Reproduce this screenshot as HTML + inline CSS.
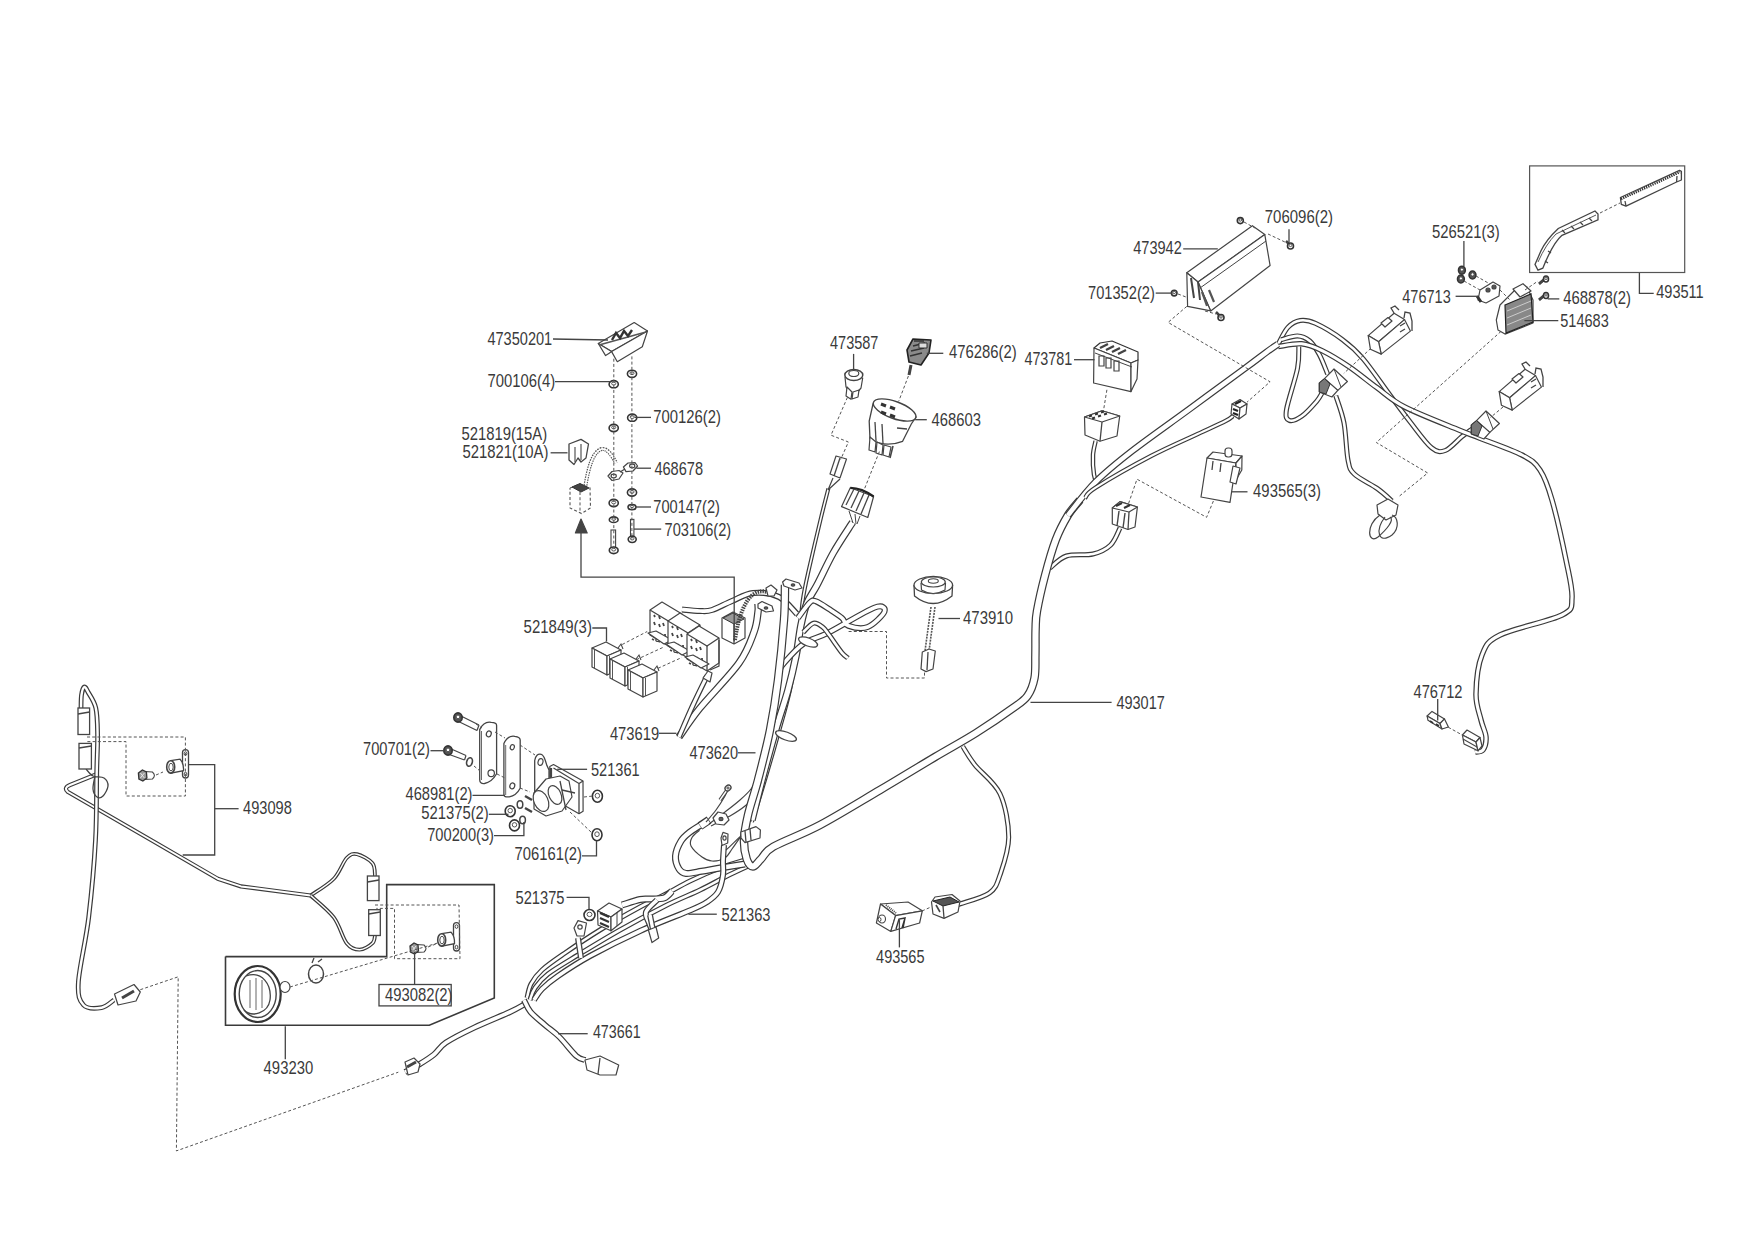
<!DOCTYPE html>
<html><head><meta charset="utf-8">
<style>
html,body{margin:0;padding:0;background:#fff;}
svg{display:block;}
text{font-family:"Liberation Sans",sans-serif;font-size:18.5px;fill:#3a3a3a;}
.l{stroke:#444;stroke-width:1.3;fill:none;}
.d{stroke:#555;stroke-width:1;fill:none;stroke-dasharray:3 2;}
.wo{stroke:#3d3d3d;fill:none;stroke-linecap:round;stroke-linejoin:round;}
.wi{stroke:#fff;fill:none;stroke-linecap:round;stroke-linejoin:round;}
.p{stroke:#444;stroke-width:1.2;fill:#fff;stroke-linejoin:round;}
.pd{stroke:#333;stroke-width:1.2;fill:#777;stroke-linejoin:round;}
</style></head>
<body>
<svg width="1754" height="1240" viewBox="0 0 1754 1240">
<rect width="1754" height="1240" fill="#fff"/>
<path d="M405.0,1072.0 C407.3,1070.8 414.0,1067.5 418.8,1064.6 C423.6,1061.7 429.5,1058.2 434.0,1054.5 C438.5,1050.8 439.2,1047.1 446.0,1042.6 C452.8,1038.1 464.0,1032.5 474.7,1027.4 C485.4,1022.3 501.6,1015.9 510.0,1012.0 C518.4,1008.1 522.5,1005.3 525.0,1004.0" fill="none" stroke="#3a3a3a" stroke-width="6" stroke-linecap="butt" stroke-linejoin="round"/>
<path d="M405.0,1072.0 C407.3,1070.8 414.0,1067.5 418.8,1064.6 C423.6,1061.7 429.5,1058.2 434.0,1054.5 C438.5,1050.8 439.2,1047.1 446.0,1042.6 C452.8,1038.1 464.0,1032.5 474.7,1027.4 C485.4,1022.3 501.6,1015.9 510.0,1012.0 C518.4,1008.1 522.5,1005.3 525.0,1004.0" fill="none" stroke="#fff" stroke-width="3.6" stroke-linecap="butt" stroke-linejoin="round"/>
<path d="M524.0,1000.0 C525.1,1002.0 527.1,1007.8 530.6,1012.0 C534.1,1016.2 540.2,1020.8 545.0,1025.0 C549.8,1029.2 554.2,1031.8 559.4,1037.0 C564.6,1042.2 572.0,1052.2 576.3,1056.0 C580.6,1059.8 583.5,1059.3 585.0,1060.0" fill="none" stroke="#3a3a3a" stroke-width="6" stroke-linecap="butt" stroke-linejoin="round"/>
<path d="M524.0,1000.0 C525.1,1002.0 527.1,1007.8 530.6,1012.0 C534.1,1016.2 540.2,1020.8 545.0,1025.0 C549.8,1029.2 554.2,1031.8 559.4,1037.0 C564.6,1042.2 572.0,1052.2 576.3,1056.0 C580.6,1059.8 583.5,1059.3 585.0,1060.0" fill="none" stroke="#fff" stroke-width="3.6" stroke-linecap="butt" stroke-linejoin="round"/>
<path d="M1050.0,568.0 C1052.7,566.0 1059.2,558.3 1066.4,556.0 C1073.6,553.7 1085.6,555.8 1093.0,554.0 C1100.4,552.2 1106.2,549.3 1110.7,545.0 C1115.2,540.7 1118.5,530.8 1120.0,528.0" fill="none" stroke="#3a3a3a" stroke-width="5" stroke-linecap="butt" stroke-linejoin="round"/>
<path d="M1050.0,568.0 C1052.7,566.0 1059.2,558.3 1066.4,556.0 C1073.6,553.7 1085.6,555.8 1093.0,554.0 C1100.4,552.2 1106.2,549.3 1110.7,545.0 C1115.2,540.7 1118.5,530.8 1120.0,528.0" fill="none" stroke="#fff" stroke-width="2.6" stroke-linecap="butt" stroke-linejoin="round"/>
<path d="M1095.6,441.0 C1095.2,443.3 1093.3,449.4 1093.0,455.0 C1092.7,460.6 1093.2,469.5 1094.0,474.7 C1094.8,479.9 1097.3,484.1 1098.0,486.0" fill="none" stroke="#3a3a3a" stroke-width="4.5" stroke-linecap="butt" stroke-linejoin="round"/>
<path d="M1095.6,441.0 C1095.2,443.3 1093.3,449.4 1093.0,455.0 C1092.7,460.6 1093.2,469.5 1094.0,474.7 C1094.8,479.9 1097.3,484.1 1098.0,486.0" fill="none" stroke="#fff" stroke-width="2.1" stroke-linecap="butt" stroke-linejoin="round"/>
<path d="M1278.3,343.8 C1279.9,341.1 1284.2,331.3 1287.9,327.4 C1291.6,323.5 1295.6,321.2 1300.2,320.5 C1304.8,319.8 1308.2,320.1 1315.3,323.3 C1322.4,326.5 1334.6,333.8 1342.6,339.7 C1350.6,345.6 1355.2,349.4 1363.2,358.8 C1371.2,368.2 1382.5,385.1 1390.5,395.8 C1398.5,406.5 1404.2,414.3 1411.0,423.0 C1417.8,431.7 1425.9,443.2 1431.6,447.8 C1437.3,452.4 1440.3,452.3 1445.3,450.5 C1450.3,448.7 1457.2,440.4 1461.7,436.8 C1466.2,433.2 1470.8,430.0 1472.6,428.6" fill="none" stroke="#3a3a3a" stroke-width="5" stroke-linecap="butt" stroke-linejoin="round"/>
<path d="M1278.3,343.8 C1279.9,341.1 1284.2,331.3 1287.9,327.4 C1291.6,323.5 1295.6,321.2 1300.2,320.5 C1304.8,319.8 1308.2,320.1 1315.3,323.3 C1322.4,326.5 1334.6,333.8 1342.6,339.7 C1350.6,345.6 1355.2,349.4 1363.2,358.8 C1371.2,368.2 1382.5,385.1 1390.5,395.8 C1398.5,406.5 1404.2,414.3 1411.0,423.0 C1417.8,431.7 1425.9,443.2 1431.6,447.8 C1437.3,452.4 1440.3,452.3 1445.3,450.5 C1450.3,448.7 1457.2,440.4 1461.7,436.8 C1466.2,433.2 1470.8,430.0 1472.6,428.6" fill="none" stroke="#fff" stroke-width="2.6" stroke-linecap="butt" stroke-linejoin="round"/>
<path d="M1281.0,339.7 C1283.8,339.1 1292.7,335.7 1297.5,335.9 C1302.3,336.1 1306.1,337.9 1309.8,341.0 C1313.5,344.1 1316.4,349.2 1319.4,354.7 C1322.4,360.2 1326.2,370.7 1327.6,373.9" fill="none" stroke="#3a3a3a" stroke-width="5" stroke-linecap="butt" stroke-linejoin="round"/>
<path d="M1281.0,339.7 C1283.8,339.1 1292.7,335.7 1297.5,335.9 C1302.3,336.1 1306.1,337.9 1309.8,341.0 C1313.5,344.1 1316.4,349.2 1319.4,354.7 C1322.4,360.2 1326.2,370.7 1327.6,373.9" fill="none" stroke="#fff" stroke-width="2.6" stroke-linecap="butt" stroke-linejoin="round"/>
<path d="M1278.3,346.5 C1282.2,346.1 1294.3,343.1 1301.6,343.8 C1308.9,344.5 1314.0,346.7 1322.0,350.6 C1330.0,354.5 1340.4,360.8 1349.5,367.0 C1358.6,373.2 1367.7,381.0 1376.8,387.6 C1385.9,394.2 1390.5,399.6 1404.2,406.7 C1417.9,413.8 1446.4,424.8 1459.0,430.0 C1471.6,435.2 1469.5,434.0 1480.0,438.2 C1490.5,442.4 1512.0,449.7 1522.0,455.0 C1532.0,460.3 1535.0,462.5 1540.0,470.0 C1545.0,477.5 1547.7,485.0 1552.0,500.0 C1556.3,515.0 1562.7,543.7 1566.0,560.0 C1569.3,576.3 1572.7,588.8 1572.0,598.0 C1571.3,607.2 1574.0,608.8 1562.0,615.0 C1550.0,621.2 1513.3,628.3 1500.0,635.0 C1486.7,641.7 1486.0,645.2 1482.0,655.0 C1478.0,664.8 1476.2,683.2 1476.0,694.0 C1475.8,704.8 1479.3,712.8 1481.0,720.0 C1482.7,727.2 1485.7,732.0 1486.0,737.0 C1486.3,742.0 1484.8,747.5 1483.0,750.0 C1481.2,752.5 1476.3,751.7 1475.0,752.0" fill="none" stroke="#3a3a3a" stroke-width="5.5" stroke-linecap="butt" stroke-linejoin="round"/>
<path d="M1278.3,346.5 C1282.2,346.1 1294.3,343.1 1301.6,343.8 C1308.9,344.5 1314.0,346.7 1322.0,350.6 C1330.0,354.5 1340.4,360.8 1349.5,367.0 C1358.6,373.2 1367.7,381.0 1376.8,387.6 C1385.9,394.2 1390.5,399.6 1404.2,406.7 C1417.9,413.8 1446.4,424.8 1459.0,430.0 C1471.6,435.2 1469.5,434.0 1480.0,438.2 C1490.5,442.4 1512.0,449.7 1522.0,455.0 C1532.0,460.3 1535.0,462.5 1540.0,470.0 C1545.0,477.5 1547.7,485.0 1552.0,500.0 C1556.3,515.0 1562.7,543.7 1566.0,560.0 C1569.3,576.3 1572.7,588.8 1572.0,598.0 C1571.3,607.2 1574.0,608.8 1562.0,615.0 C1550.0,621.2 1513.3,628.3 1500.0,635.0 C1486.7,641.7 1486.0,645.2 1482.0,655.0 C1478.0,664.8 1476.2,683.2 1476.0,694.0 C1475.8,704.8 1479.3,712.8 1481.0,720.0 C1482.7,727.2 1485.7,732.0 1486.0,737.0 C1486.3,742.0 1484.8,747.5 1483.0,750.0 C1481.2,752.5 1476.3,751.7 1475.0,752.0" fill="none" stroke="#fff" stroke-width="3.1" stroke-linecap="butt" stroke-linejoin="round"/>
<path d="M1298.8,346.5 C1298.6,350.1 1299.5,357.9 1297.5,368.4 C1295.5,378.9 1287.9,400.8 1286.5,409.5 C1285.1,418.2 1286.8,419.3 1289.3,420.4 C1291.8,421.5 1297.0,419.5 1301.6,416.3 C1306.1,413.1 1313.2,405.2 1316.6,401.3 C1320.0,397.4 1321.1,394.4 1322.0,393.0" fill="none" stroke="#3a3a3a" stroke-width="5" stroke-linecap="butt" stroke-linejoin="round"/>
<path d="M1298.8,346.5 C1298.6,350.1 1299.5,357.9 1297.5,368.4 C1295.5,378.9 1287.9,400.8 1286.5,409.5 C1285.1,418.2 1286.8,419.3 1289.3,420.4 C1291.8,421.5 1297.0,419.5 1301.6,416.3 C1306.1,413.1 1313.2,405.2 1316.6,401.3 C1320.0,397.4 1321.1,394.4 1322.0,393.0" fill="none" stroke="#fff" stroke-width="2.6" stroke-linecap="butt" stroke-linejoin="round"/>
<path d="M1335.8,395.8 C1337.2,400.3 1342.0,412.3 1344.0,423.0 C1346.0,433.7 1346.3,451.5 1348.0,460.0 C1349.7,468.5 1349.4,469.2 1354.3,474.0 C1359.2,478.8 1371.1,484.1 1377.4,488.6 C1383.7,493.1 1389.6,498.9 1392.0,501.0" fill="none" stroke="#3a3a3a" stroke-width="5" stroke-linecap="butt" stroke-linejoin="round"/>
<path d="M1335.8,395.8 C1337.2,400.3 1342.0,412.3 1344.0,423.0 C1346.0,433.7 1346.3,451.5 1348.0,460.0 C1349.7,468.5 1349.4,469.2 1354.3,474.0 C1359.2,478.8 1371.1,484.1 1377.4,488.6 C1383.7,493.1 1389.6,498.9 1392.0,501.0" fill="none" stroke="#fff" stroke-width="2.6" stroke-linecap="butt" stroke-linejoin="round"/>
<path d="M679.0,737.0 C682.5,732.2 690.0,720.3 700.0,708.0 C710.0,695.7 730.0,675.7 739.0,663.0 C748.0,650.3 750.8,640.5 754.0,632.0 C757.2,623.5 757.3,616.7 758.0,612.0 C758.7,607.3 758.0,605.3 758.0,604.0" fill="none" stroke="#3a3a3a" stroke-width="7.5" stroke-linecap="butt" stroke-linejoin="round"/>
<path d="M679.0,737.0 C682.5,732.2 690.0,720.3 700.0,708.0 C710.0,695.7 730.0,675.7 739.0,663.0 C748.0,650.3 750.8,640.5 754.0,632.0 C757.2,623.5 757.3,616.7 758.0,612.0 C758.7,607.3 758.0,605.3 758.0,604.0" fill="none" stroke="#fff" stroke-width="5.1" stroke-linecap="butt" stroke-linejoin="round"/>
<path d="M679.0,737.0 C681.3,731.7 688.3,715.2 693.0,705.0 C697.7,694.8 704.7,680.8 707.0,676.0" fill="none" stroke="#3a3a3a" stroke-width="5.5" stroke-linecap="butt" stroke-linejoin="round"/>
<path d="M679.0,737.0 C681.3,731.7 688.3,715.2 693.0,705.0 C697.7,694.8 704.7,680.8 707.0,676.0" fill="none" stroke="#fff" stroke-width="3.1" stroke-linecap="butt" stroke-linejoin="round"/>
<path d="M682.0,609.5 C685.0,609.8 695.0,610.9 700.0,611.0 C705.0,611.1 706.7,611.7 712.0,610.0 C717.3,608.3 725.2,603.8 732.0,601.0 C738.8,598.2 745.2,593.7 753.0,593.0 C760.8,592.3 771.7,593.5 779.0,597.0 C786.3,600.5 794.0,611.2 797.0,614.0" fill="none" stroke="#3a3a3a" stroke-width="6" stroke-linecap="butt" stroke-linejoin="round"/>
<path d="M682.0,609.5 C685.0,609.8 695.0,610.9 700.0,611.0 C705.0,611.1 706.7,611.7 712.0,610.0 C717.3,608.3 725.2,603.8 732.0,601.0 C738.8,598.2 745.2,593.7 753.0,593.0 C760.8,592.3 771.7,593.5 779.0,597.0 C786.3,600.5 794.0,611.2 797.0,614.0" fill="none" stroke="#fff" stroke-width="3.6" stroke-linecap="butt" stroke-linejoin="round"/>
<path d="M828.4,488.4 C827.0,493.8 823.5,507.2 820.3,520.6 C817.1,534.0 812.0,555.5 809.0,569.0 C806.0,582.5 804.3,589.5 802.6,601.3 C800.9,613.1 801.1,625.2 799.0,640.0 C796.9,654.8 793.5,674.2 790.0,690.0 C786.5,705.8 782.2,720.0 778.0,735.0 C773.8,750.0 769.3,765.5 765.0,780.0 C760.7,794.5 754.2,815.0 752.0,822.0" fill="none" stroke="#3a3a3a" stroke-width="4" stroke-linecap="butt" stroke-linejoin="round"/>
<path d="M828.4,488.4 C827.0,493.8 823.5,507.2 820.3,520.6 C817.1,534.0 812.0,555.5 809.0,569.0 C806.0,582.5 804.3,589.5 802.6,601.3 C800.9,613.1 801.1,625.2 799.0,640.0 C796.9,654.8 793.5,674.2 790.0,690.0 C786.5,705.8 782.2,720.0 778.0,735.0 C773.8,750.0 769.3,765.5 765.0,780.0 C760.7,794.5 754.2,815.0 752.0,822.0" fill="none" stroke="#fff" stroke-width="1.6" stroke-linecap="butt" stroke-linejoin="round"/>
<path d="M852.6,522.3 C849.4,527.4 839.1,542.5 833.2,553.0 C827.3,563.5 821.4,576.7 817.0,585.0 C812.6,593.3 809.7,596.3 807.0,603.0 C804.3,609.7 802.8,616.2 801.0,625.0 C799.2,633.8 798.2,645.2 796.0,656.0 C793.8,666.8 791.3,677.8 788.0,690.0 C784.7,702.2 780.3,714.0 776.0,729.0 C771.7,744.0 766.0,764.8 762.0,780.0 C758.0,795.2 753.7,813.3 752.0,820.0" fill="none" stroke="#3a3a3a" stroke-width="7.5" stroke-linecap="butt" stroke-linejoin="round"/>
<path d="M852.6,522.3 C849.4,527.4 839.1,542.5 833.2,553.0 C827.3,563.5 821.4,576.7 817.0,585.0 C812.6,593.3 809.7,596.3 807.0,603.0 C804.3,609.7 802.8,616.2 801.0,625.0 C799.2,633.8 798.2,645.2 796.0,656.0 C793.8,666.8 791.3,677.8 788.0,690.0 C784.7,702.2 780.3,714.0 776.0,729.0 C771.7,744.0 766.0,764.8 762.0,780.0 C758.0,795.2 753.7,813.3 752.0,820.0" fill="none" stroke="#fff" stroke-width="5.1" stroke-linecap="butt" stroke-linejoin="round"/>
<path d="M798.0,618.0 C800.0,615.4 806.7,605.4 809.7,602.6 C812.7,599.8 812.8,600.2 816.0,601.3 C819.2,602.4 824.7,606.2 829.0,609.0 C833.3,611.8 838.8,615.2 842.0,618.0 C845.2,620.8 844.1,624.3 848.4,625.8 C852.7,627.3 861.7,629.4 867.7,627.0 C873.7,624.6 883.4,614.8 884.5,611.6 C885.6,608.4 883.5,604.2 874.2,607.7 C865.0,611.2 840.8,626.3 829.0,632.3 C817.2,638.3 810.7,638.8 803.2,643.9 C795.7,649.0 787.8,658.9 783.9,663.2 C780.0,667.5 780.6,668.6 780.0,669.7" fill="none" stroke="#3a3a3a" stroke-width="6" stroke-linecap="butt" stroke-linejoin="round"/>
<path d="M798.0,618.0 C800.0,615.4 806.7,605.4 809.7,602.6 C812.7,599.8 812.8,600.2 816.0,601.3 C819.2,602.4 824.7,606.2 829.0,609.0 C833.3,611.8 838.8,615.2 842.0,618.0 C845.2,620.8 844.1,624.3 848.4,625.8 C852.7,627.3 861.7,629.4 867.7,627.0 C873.7,624.6 883.4,614.8 884.5,611.6 C885.6,608.4 883.5,604.2 874.2,607.7 C865.0,611.2 840.8,626.3 829.0,632.3 C817.2,638.3 810.7,638.8 803.2,643.9 C795.7,649.0 787.8,658.9 783.9,663.2 C780.0,667.5 780.6,668.6 780.0,669.7" fill="none" stroke="#fff" stroke-width="3.6" stroke-linecap="butt" stroke-linejoin="round"/>
<path d="M803.2,632.3 C804.9,630.8 810.3,624.1 813.5,623.2 C816.7,622.3 820.0,625.1 822.6,627.0 C825.2,628.9 825.8,630.5 829.0,634.8 C832.2,639.1 838.8,649.0 842.0,652.9 C845.2,656.8 847.0,657.1 848.0,658.0" fill="none" stroke="#3a3a3a" stroke-width="5" stroke-linecap="butt" stroke-linejoin="round"/>
<path d="M803.2,632.3 C804.9,630.8 810.3,624.1 813.5,623.2 C816.7,622.3 820.0,625.1 822.6,627.0 C825.2,628.9 825.8,630.5 829.0,634.8 C832.2,639.1 838.8,649.0 842.0,652.9 C845.2,656.8 847.0,657.1 848.0,658.0" fill="none" stroke="#fff" stroke-width="2.6" stroke-linecap="butt" stroke-linejoin="round"/>
<path d="M745.0,860.0 C740.8,861.3 729.2,864.5 720.0,868.0 C710.8,871.5 699.3,876.5 690.0,881.0 C680.7,885.5 672.3,890.7 664.0,895.0 C655.7,899.3 650.7,901.2 640.0,907.0 C629.3,912.8 612.5,922.3 600.0,930.0 C587.5,937.7 574.7,946.3 565.0,953.0 C555.3,959.7 547.7,964.8 542.0,970.0 C536.3,975.2 533.5,979.3 531.0,984.0 C528.5,988.7 527.7,995.7 527.0,998.0" fill="none" stroke="#3a3a3a" stroke-width="5" stroke-linecap="butt" stroke-linejoin="round"/>
<path d="M745.0,860.0 C740.8,861.3 729.2,864.5 720.0,868.0 C710.8,871.5 699.3,876.5 690.0,881.0 C680.7,885.5 672.3,890.7 664.0,895.0 C655.7,899.3 650.7,901.2 640.0,907.0 C629.3,912.8 612.5,922.3 600.0,930.0 C587.5,937.7 574.7,946.3 565.0,953.0 C555.3,959.7 547.7,964.8 542.0,970.0 C536.3,975.2 533.5,979.3 531.0,984.0 C528.5,988.7 527.7,995.7 527.0,998.0" fill="none" stroke="#fff" stroke-width="2.6" stroke-linecap="butt" stroke-linejoin="round"/>
<path d="M748.0,866.0 C744.5,867.7 735.0,872.0 727.0,876.0 C719.0,880.0 710.3,885.0 700.0,890.0 C689.7,895.0 678.3,899.3 665.0,906.0 C651.7,912.7 634.5,921.8 620.0,930.0 C605.5,938.2 590.0,947.7 578.0,955.0 C566.0,962.3 555.2,968.5 548.0,974.0 C540.8,979.5 538.0,983.7 535.0,988.0 C532.0,992.3 530.8,998.0 530.0,1000.0" fill="none" stroke="#3a3a3a" stroke-width="5" stroke-linecap="butt" stroke-linejoin="round"/>
<path d="M748.0,866.0 C744.5,867.7 735.0,872.0 727.0,876.0 C719.0,880.0 710.3,885.0 700.0,890.0 C689.7,895.0 678.3,899.3 665.0,906.0 C651.7,912.7 634.5,921.8 620.0,930.0 C605.5,938.2 590.0,947.7 578.0,955.0 C566.0,962.3 555.2,968.5 548.0,974.0 C540.8,979.5 538.0,983.7 535.0,988.0 C532.0,992.3 530.8,998.0 530.0,1000.0" fill="none" stroke="#fff" stroke-width="2.6" stroke-linecap="butt" stroke-linejoin="round"/>
<path d="M704.0,823.0 C701.7,824.5 693.8,829.0 690.0,832.0 C686.2,835.0 683.4,837.0 681.0,841.0 C678.6,845.0 675.8,851.3 675.5,856.0 C675.2,860.7 677.2,866.1 679.0,869.0 C680.8,871.9 682.2,873.0 686.0,873.4 C689.8,873.8 695.9,872.2 701.6,871.3 C707.3,870.4 712.8,869.2 720.0,868.0 C727.2,866.8 740.8,864.7 745.0,864.0" fill="none" stroke="#3a3a3a" stroke-width="7" stroke-linecap="butt" stroke-linejoin="round"/>
<path d="M704.0,823.0 C701.7,824.5 693.8,829.0 690.0,832.0 C686.2,835.0 683.4,837.0 681.0,841.0 C678.6,845.0 675.8,851.3 675.5,856.0 C675.2,860.7 677.2,866.1 679.0,869.0 C680.8,871.9 682.2,873.0 686.0,873.4 C689.8,873.8 695.9,872.2 701.6,871.3 C707.3,870.4 712.8,869.2 720.0,868.0 C727.2,866.8 740.8,864.7 745.0,864.0" fill="none" stroke="#fff" stroke-width="4.6" stroke-linecap="butt" stroke-linejoin="round"/>
<path d="M700,826 L709,820" stroke="#3a3a3a" stroke-width="8.5"/><path d="M700.5,826 L708.5,820.5" stroke="#fff" stroke-width="6"/>
<path d="M741.0,836.0 C739.5,838.2 734.7,845.3 732.0,849.0 C729.3,852.7 728.3,856.0 725.0,858.0 C721.7,860.0 715.8,861.2 712.0,861.0 C708.2,860.8 705.5,859.5 702.0,857.0 C698.5,854.5 692.7,849.2 691.0,846.0 C689.3,842.8 690.6,840.1 692.0,837.5 C693.4,834.9 698.2,831.5 699.5,830.3" fill="none" stroke="#444" stroke-width="1.2"/>
<path d="M706.0,822.0 C707.7,820.0 712.8,814.3 716.0,810.0 C719.2,805.7 723.0,799.5 725.0,796.0 C727.0,792.5 727.5,790.2 728.0,789.0" fill="none" stroke="#444" stroke-width="1.2"/>
<path d="M709.0,824.0 C711.7,822.0 719.8,816.0 725.0,812.0 C730.2,808.0 735.7,803.8 740.0,800.0 C744.3,796.2 748.2,792.7 751.0,789.0 C753.8,785.3 756.0,779.8 757.0,778.0" fill="none" stroke="#444" stroke-width="1.2"/>
<path d="M711.0,826.0 C714.2,824.3 724.3,819.3 730.0,816.0 C735.7,812.7 740.7,809.5 745.0,806.0 C749.3,802.5 753.3,799.0 756.0,795.0 C758.7,791.0 760.2,784.2 761.0,782.0" fill="none" stroke="#444" stroke-width="1.2"/>
<path d="M724.0,845.0 C723.8,847.7 723.2,856.0 723.0,861.0 C722.8,866.0 723.8,869.8 723.0,875.0 C722.2,880.2 720.7,887.5 718.0,892.0 C715.3,896.5 711.5,899.0 707.0,902.0 C702.5,905.0 702.2,905.2 691.0,910.0 C679.8,914.8 656.8,923.3 640.0,931.0 C623.2,938.7 603.7,948.5 590.0,956.0 C576.3,963.5 566.0,970.5 558.0,976.0 C550.0,981.5 546.0,985.0 542.0,989.0 C538.0,993.0 535.3,998.2 534.0,1000.0" fill="none" stroke="#3a3a3a" stroke-width="6" stroke-linecap="butt" stroke-linejoin="round"/>
<path d="M724.0,845.0 C723.8,847.7 723.2,856.0 723.0,861.0 C722.8,866.0 723.8,869.8 723.0,875.0 C722.2,880.2 720.7,887.5 718.0,892.0 C715.3,896.5 711.5,899.0 707.0,902.0 C702.5,905.0 702.2,905.2 691.0,910.0 C679.8,914.8 656.8,923.3 640.0,931.0 C623.2,938.7 603.7,948.5 590.0,956.0 C576.3,963.5 566.0,970.5 558.0,976.0 C550.0,981.5 546.0,985.0 542.0,989.0 C538.0,993.0 535.3,998.2 534.0,1000.0" fill="none" stroke="#fff" stroke-width="3.6" stroke-linecap="butt" stroke-linejoin="round"/>
<path d="M672.0,891.0 C670.7,892.2 667.7,896.7 664.0,898.0 C660.3,899.3 654.0,898.8 650.0,899.0 C646.0,899.2 644.7,898.5 640.0,899.5 C635.3,900.5 625.0,904.1 622.0,905.0" fill="none" stroke="#3a3a3a" stroke-width="7" stroke-linecap="butt" stroke-linejoin="round"/>
<path d="M672.0,891.0 C670.7,892.2 667.7,896.7 664.0,898.0 C660.3,899.3 654.0,898.8 650.0,899.0 C646.0,899.2 644.7,898.5 640.0,899.5 C635.3,900.5 625.0,904.1 622.0,905.0" fill="none" stroke="#fff" stroke-width="4.6" stroke-linecap="butt" stroke-linejoin="round"/>
<path d="M657.0,900.0 C655.2,902.0 647.3,908.2 646.0,912.0 C644.7,915.8 647.8,919.5 649.0,923.0 C650.2,926.5 652.3,931.3 653.0,933.0" fill="none" stroke="#3a3a3a" stroke-width="6" stroke-linecap="butt" stroke-linejoin="round"/>
<path d="M657.0,900.0 C655.2,902.0 647.3,908.2 646.0,912.0 C644.7,915.8 647.8,919.5 649.0,923.0 C650.2,926.5 652.3,931.3 653.0,933.0" fill="none" stroke="#fff" stroke-width="3.6" stroke-linecap="butt" stroke-linejoin="round"/>
<path d="M785.0,585.0 C784.8,590.8 785.2,604.2 784.0,620.0 C782.8,635.8 780.3,661.7 778.0,680.0 C775.7,698.3 773.3,713.3 770.0,730.0 C766.7,746.7 761.7,765.8 758.0,780.0 C754.3,794.2 750.3,805.0 748.0,815.0 C745.7,825.0 744.2,832.7 744.0,840.0 C743.8,847.3 745.2,854.6 746.7,859.0 C748.2,863.4 750.5,866.5 752.9,866.5 C755.3,866.5 757.6,862.3 761.0,859.0 C764.4,855.7 763.6,852.4 773.4,846.7 C783.2,841.0 802.2,834.5 820.0,825.0 C837.8,815.5 860.8,801.3 880.0,790.0 C899.2,778.7 919.0,766.5 935.0,757.0 C951.0,747.5 963.0,741.2 976.0,733.0 C989.0,724.8 1004.4,714.2 1013.0,708.0 C1021.6,701.8 1023.8,701.0 1027.4,696.0 C1031.0,691.0 1033.2,684.8 1034.5,678.0 C1035.8,671.2 1035.2,663.2 1035.4,655.0 C1035.6,646.8 1035.3,636.3 1035.6,629.0 C1035.9,621.7 1035.4,619.9 1037.0,611.0 C1038.6,602.1 1041.9,587.3 1045.0,575.5 C1048.1,563.7 1051.9,550.0 1055.7,540.0 C1059.5,530.0 1063.8,522.2 1067.8,515.5 C1071.8,508.8 1078.0,502.6 1080.0,500.0" fill="none" stroke="#3a3a3a" stroke-width="8.5" stroke-linecap="butt" stroke-linejoin="round"/>
<path d="M785.0,585.0 C784.8,590.8 785.2,604.2 784.0,620.0 C782.8,635.8 780.3,661.7 778.0,680.0 C775.7,698.3 773.3,713.3 770.0,730.0 C766.7,746.7 761.7,765.8 758.0,780.0 C754.3,794.2 750.3,805.0 748.0,815.0 C745.7,825.0 744.2,832.7 744.0,840.0 C743.8,847.3 745.2,854.6 746.7,859.0 C748.2,863.4 750.5,866.5 752.9,866.5 C755.3,866.5 757.6,862.3 761.0,859.0 C764.4,855.7 763.6,852.4 773.4,846.7 C783.2,841.0 802.2,834.5 820.0,825.0 C837.8,815.5 860.8,801.3 880.0,790.0 C899.2,778.7 919.0,766.5 935.0,757.0 C951.0,747.5 963.0,741.2 976.0,733.0 C989.0,724.8 1004.4,714.2 1013.0,708.0 C1021.6,701.8 1023.8,701.0 1027.4,696.0 C1031.0,691.0 1033.2,684.8 1034.5,678.0 C1035.8,671.2 1035.2,663.2 1035.4,655.0 C1035.6,646.8 1035.3,636.3 1035.6,629.0 C1035.9,621.7 1035.4,619.9 1037.0,611.0 C1038.6,602.1 1041.9,587.3 1045.0,575.5 C1048.1,563.7 1051.9,550.0 1055.7,540.0 C1059.5,530.0 1063.8,522.2 1067.8,515.5 C1071.8,508.8 1078.0,502.6 1080.0,500.0" fill="none" stroke="#fff" stroke-width="6.1" stroke-linecap="butt" stroke-linejoin="round"/>
<path d="M1067.8,515.5 C1072.4,509.9 1084.8,492.8 1095.6,482.0 C1106.4,471.2 1117.2,462.5 1132.7,450.5 C1148.2,438.5 1169.9,423.4 1188.4,409.8 C1207.0,396.2 1231.0,378.6 1244.0,369.0 C1257.0,359.4 1260.6,356.5 1266.3,352.3 C1272.0,348.1 1276.0,345.4 1278.0,344.0" fill="none" stroke="#3a3a3a" stroke-width="7" stroke-linecap="butt" stroke-linejoin="round"/>
<path d="M1067.8,515.5 C1072.4,509.9 1084.8,492.8 1095.6,482.0 C1106.4,471.2 1117.2,462.5 1132.7,450.5 C1148.2,438.5 1169.9,423.4 1188.4,409.8 C1207.0,396.2 1231.0,378.6 1244.0,369.0 C1257.0,359.4 1260.6,356.5 1266.3,352.3 C1272.0,348.1 1276.0,345.4 1278.0,344.0" fill="none" stroke="#fff" stroke-width="4.6" stroke-linecap="butt" stroke-linejoin="round"/>
<path d="M1085.0,498.0 C1086.8,496.3 1084.6,494.6 1095.6,487.6 C1106.6,480.6 1134.0,464.9 1151.0,456.0 C1168.0,447.1 1185.3,439.8 1197.7,434.0 C1210.1,428.2 1219.6,424.0 1225.5,421.0 C1231.4,418.0 1231.8,416.8 1233.0,416.0" fill="none" stroke="#3a3a3a" stroke-width="4.5" stroke-linecap="butt" stroke-linejoin="round"/>
<path d="M1085.0,498.0 C1086.8,496.3 1084.6,494.6 1095.6,487.6 C1106.6,480.6 1134.0,464.9 1151.0,456.0 C1168.0,447.1 1185.3,439.8 1197.7,434.0 C1210.1,428.2 1219.6,424.0 1225.5,421.0 C1231.4,418.0 1231.8,416.8 1233.0,416.0" fill="none" stroke="#fff" stroke-width="2.1" stroke-linecap="butt" stroke-linejoin="round"/>
<path d="M962.8,746.5 C964.8,749.6 968.8,757.1 975.0,765.0 C981.2,772.9 994.4,781.7 1000.0,793.7 C1005.6,805.8 1008.7,823.8 1008.7,837.3 C1008.7,850.8 1003.2,865.7 1000.0,875.0 C996.8,884.3 996.0,888.2 989.4,893.0 C982.8,897.8 966.0,901.8 960.3,903.8 C954.6,905.8 955.9,904.8 955.0,905.0" fill="none" stroke="#3a3a3a" stroke-width="5" stroke-linecap="butt" stroke-linejoin="round"/>
<path d="M962.8,746.5 C964.8,749.6 968.8,757.1 975.0,765.0 C981.2,772.9 994.4,781.7 1000.0,793.7 C1005.6,805.8 1008.7,823.8 1008.7,837.3 C1008.7,850.8 1003.2,865.7 1000.0,875.0 C996.8,884.3 996.0,888.2 989.4,893.0 C982.8,897.8 966.0,901.8 960.3,903.8 C954.6,905.8 955.9,904.8 955.0,905.0" fill="none" stroke="#fff" stroke-width="2.6" stroke-linecap="butt" stroke-linejoin="round"/>
<path d="M98.5,773.5 L70,785 Q63,788 68,792 L151,840 L217.7,878.7 L241,886.4 L310.6,895.5" fill="none" stroke="#3a3a3a" stroke-width="4.2" stroke-linejoin="round"/>
<path d="M98.5,773.5 L70,785 Q63,788 68,792 L151,840 L217.7,878.7 L241,886.4 L310.6,895.5" fill="none" stroke="#fff" stroke-width="2.0" stroke-linejoin="round"/>
<path d="M310.6,895.5 C314.5,892.7 327.8,885.0 333.8,878.7 C339.8,872.5 342.8,862.1 346.7,858.0 C350.6,853.9 352.7,853.3 357.0,854.2 C361.3,855.1 369.5,859.6 372.5,863.2 C375.5,866.8 374.6,873.9 375.0,876.0" fill="none" stroke="#3a3a3a" stroke-width="3.8" stroke-linecap="butt" stroke-linejoin="round"/>
<path d="M310.6,895.5 C314.5,892.7 327.8,885.0 333.8,878.7 C339.8,872.5 342.8,862.1 346.7,858.0 C350.6,853.9 352.7,853.3 357.0,854.2 C361.3,855.1 369.5,859.6 372.5,863.2 C375.5,866.8 374.6,873.9 375.0,876.0" fill="none" stroke="#fff" stroke-width="1.4" stroke-linecap="butt" stroke-linejoin="round"/>
<path d="M310.6,895.5 C314.5,899.1 327.8,909.4 333.8,917.4 C339.8,925.4 342.4,937.8 346.7,943.2 C351.0,948.6 355.3,949.7 359.6,949.7 C363.9,949.7 369.9,945.7 372.5,943.2 C375.1,940.8 374.6,936.4 375.0,935.0" fill="none" stroke="#3a3a3a" stroke-width="3.8" stroke-linecap="butt" stroke-linejoin="round"/>
<path d="M310.6,895.5 C314.5,899.1 327.8,909.4 333.8,917.4 C339.8,925.4 342.4,937.8 346.7,943.2 C351.0,948.6 355.3,949.7 359.6,949.7 C363.9,949.7 369.9,945.7 372.5,943.2 C375.1,940.8 374.6,936.4 375.0,935.0" fill="none" stroke="#fff" stroke-width="1.4" stroke-linecap="butt" stroke-linejoin="round"/>
<path d="M81.0,708.0 C81.1,705.8 81.0,698.5 81.5,695.0 C82.0,691.5 83.2,687.5 84.3,687.0 C85.4,686.5 86.1,688.5 88.0,692.0 C89.9,695.5 94.2,700.9 95.8,708.0 C97.4,715.1 97.4,723.6 97.6,734.5 C97.8,745.4 97.0,755.9 96.7,773.5 C96.4,791.1 96.8,816.0 95.5,840.0 C94.2,864.0 91.5,893.7 88.7,917.4 C85.9,941.1 79.3,967.4 78.4,982.0 C77.5,996.6 79.6,1000.7 83.5,1005.0 C87.4,1009.3 96.5,1008.5 101.6,1007.7 C106.7,1006.9 111.9,1001.3 114.0,1000.0" fill="none" stroke="#3a3a3a" stroke-width="4.8" stroke-linecap="butt" stroke-linejoin="round"/>
<path d="M81.0,708.0 C81.1,705.8 81.0,698.5 81.5,695.0 C82.0,691.5 83.2,687.5 84.3,687.0 C85.4,686.5 86.1,688.5 88.0,692.0 C89.9,695.5 94.2,700.9 95.8,708.0 C97.4,715.1 97.4,723.6 97.6,734.5 C97.8,745.4 97.0,755.9 96.7,773.5 C96.4,791.1 96.8,816.0 95.5,840.0 C94.2,864.0 91.5,893.7 88.7,917.4 C85.9,941.1 79.3,967.4 78.4,982.0 C77.5,996.6 79.6,1000.7 83.5,1005.0 C87.4,1009.3 96.5,1008.5 101.6,1007.7 C106.7,1006.9 111.9,1001.3 114.0,1000.0" fill="none" stroke="#fff" stroke-width="2.4" stroke-linecap="butt" stroke-linejoin="round"/>
<path d="M86.0,769.0 C87.2,770.2 90.0,774.5 93.0,776.0 C96.0,777.5 101.5,776.3 104.0,778.0 C106.5,779.7 108.2,783.0 108.0,786.0 C107.8,789.0 104.8,794.2 103.0,796.0 C101.2,797.8 98.7,798.2 97.0,797.0 C95.3,795.8 93.3,792.5 93.0,789.0 C92.7,785.5 94.7,778.2 95.0,776.0" fill="none" stroke="#444" stroke-width="1.3"/><path d="M598.3,343.5 L634.2,322.6 L647.5,331.0 L611.6,351.6Z" fill="#fff" stroke="#444" stroke-width="1.2" stroke-linejoin="round"/>
<path d="M647.5,331.0 L642.3,346.8 L617.3,361.7 L611.6,351.6Z" fill="#fff" stroke="#444" stroke-width="1.2" stroke-linejoin="round"/>
<path d="M598.3,343.5 L605.6,355.6 L609.2,353.2 L611.6,351.6Z" fill="#fff" stroke="#444" stroke-width="1.2" stroke-linejoin="round"/>
<path d="M599.0,345.0 L646.0,332.0" fill="none" stroke="#555" stroke-width="1.6"/>
<path d="M612,340 L616,333 L620,338 L624,331 L628,336 L632,330" fill="none" stroke="#333" stroke-width="2.4"/>
<ellipse cx="613.7" cy="384.2" rx="4.6" ry="3.6" fill="#fff" stroke="#333" stroke-width="1.6"/>
<ellipse cx="613.7" cy="383.59999999999997" rx="2.07" ry="1.4400000000000002" fill="#fff" stroke="#444" stroke-width="0.9"/>
<ellipse cx="632.0" cy="373.8" rx="4.6" ry="3.6" fill="#fff" stroke="#333" stroke-width="1.6"/>
<ellipse cx="632.0" cy="373.2" rx="2.07" ry="1.4400000000000002" fill="#fff" stroke="#444" stroke-width="0.9"/>
<ellipse cx="613.7" cy="428" rx="4.6" ry="3.6" fill="#fff" stroke="#333" stroke-width="1.6"/>
<ellipse cx="613.7" cy="427.4" rx="2.07" ry="1.4400000000000002" fill="#fff" stroke="#444" stroke-width="0.9"/>
<ellipse cx="632.2" cy="417.7" rx="4.6" ry="3.6" fill="#fff" stroke="#333" stroke-width="1.6"/>
<ellipse cx="632.2" cy="417.09999999999997" rx="2.07" ry="1.4400000000000002" fill="#fff" stroke="#444" stroke-width="0.9"/>
<ellipse cx="613.7" cy="503" rx="4.6" ry="3.6" fill="#fff" stroke="#333" stroke-width="1.6"/>
<ellipse cx="613.7" cy="502.4" rx="2.07" ry="1.4400000000000002" fill="#fff" stroke="#444" stroke-width="0.9"/>
<ellipse cx="632.0" cy="492.5" rx="4.6" ry="3.6" fill="#fff" stroke="#333" stroke-width="1.6"/>
<ellipse cx="632.0" cy="491.9" rx="2.07" ry="1.4400000000000002" fill="#fff" stroke="#444" stroke-width="0.9"/>
<ellipse cx="613.7" cy="519.7" rx="4.4" ry="2.8" fill="#fff" stroke="#333" stroke-width="1.6"/>
<ellipse cx="613.7" cy="519.1" rx="1.9800000000000002" ry="1.1199999999999999" fill="#fff" stroke="#444" stroke-width="0.9"/>
<ellipse cx="632.0" cy="507.1" rx="4" ry="2.6" fill="#fff" stroke="#333" stroke-width="1.6"/>
<ellipse cx="632.0" cy="506.5" rx="1.8" ry="1.04" fill="#fff" stroke="#444" stroke-width="0.9"/>
<path d="M608.0,476.0 L612.0,471.5 L619.0,470.5 L623.0,473.0 L619.0,479.0 L612.0,480.5Z" fill="#fff" stroke="#444" stroke-width="1.2" stroke-linejoin="round"/>
<ellipse cx="613.7" cy="476" rx="2.6" ry="1.8" fill="#fff" stroke="#444" stroke-width="1.2" transform="rotate(0 613.7 476)"/>
<path d="M623.4,467.0 L628.0,463.0 L635.0,462.6 L637.6,466.0 L633.0,471.0 L626.0,471.6Z" fill="#fff" stroke="#444" stroke-width="1.2" stroke-linejoin="round"/>
<ellipse cx="632.2" cy="466" rx="2.6" ry="1.8" fill="#fff" stroke="#444" stroke-width="1.2" transform="rotate(0 632.2 466)"/>
<path d="M620.0,472.0 L625.0,469.0" fill="none" stroke="#444" stroke-width="1.3"/>
<rect x="611" y="530" width="4.6" height="18" fill="#fff" stroke="#444" stroke-width="1.1"/>
<ellipse cx="613.7" cy="550.3" rx="4.4" ry="3.3" fill="#fff" stroke="#333" stroke-width="1.6"/>
<ellipse cx="613.7" cy="549.6999999999999" rx="1.9800000000000002" ry="1.32" fill="#fff" stroke="#444" stroke-width="0.9"/>
<rect x="630.5" y="519.4" width="3.4" height="17" fill="#fff" stroke="#444" stroke-width="1.1"/>
<ellipse cx="632.2" cy="539.3" rx="4" ry="3.2" fill="#fff" stroke="#333" stroke-width="1.6"/>
<ellipse cx="632.2" cy="538.6999999999999" rx="1.8" ry="1.2800000000000002" fill="#fff" stroke="#444" stroke-width="0.9"/>
<path d="M569.0,444.0 L581.0,439.4 L588.5,444.0 L586.0,458.0 L581.0,462.0 L578.0,458.0 L574.0,464.5 L569.0,460.0Z" fill="#fff" stroke="#444" stroke-width="1.3" stroke-linejoin="round"/>
<path d="M575.0,447.0 L575.0,462.0" fill="none" stroke="#444" stroke-width="1.1"/>
<path d="M581.0,444.0 L581.0,460.0" fill="none" stroke="#444" stroke-width="1.1"/>
<path d="M585,488 C588,470 592,452 601.5,449 C607,448 612,455 616,463" fill="none" stroke="#555" stroke-width="4" stroke-dasharray="1.5 1"/>
<path d="M585,488 C588,470 592,452 601.5,449 C607,448 612,455 616,463" fill="none" stroke="#fff" stroke-width="1.6"/>
<path d="M570.0,488.0 L580.0,484.0 L590.0,488.0 L590.5,508.0 L581.5,513.5 L570.0,508.0 L570.0,488.0" fill="none" stroke="#555" stroke-width="1.1" stroke-dasharray="3 2.2"/>
<path d="M580.0,492.0 L580.0,513.0" fill="none" stroke="#555" stroke-width="1" stroke-dasharray="3 2.2"/>
<path d="M572,487 L580,483.5 L589,488 L581,492 Z" fill="#444" stroke="#333" stroke-width="1"/>
<path d="M592.0,648.0 L606.0,642.0 L621.0,650.0 L607.0,656.0Z" fill="#fff" stroke="#444" stroke-width="1.2" stroke-linejoin="round"/>
<path d="M592.0,648.0 L607.0,656.0 L607.0,675.0 L592.0,667.0Z" fill="#fff" stroke="#444" stroke-width="1.2" stroke-linejoin="round"/>
<path d="M594.5,650.0 L594.5,668.0" fill="none" stroke="#444" stroke-width="0.9"/>
<path d="M607.0,656.0 L621.0,650.0 L621.0,669.0 L607.0,675.0Z" fill="#fff" stroke="#444" stroke-width="1.2" stroke-linejoin="round"/>
<path d="M609.5,656.0 L609.5,674.0" fill="none" stroke="#444" stroke-width="0.9"/>
<path d="M618,648 l3,-4 l2,5" fill="none" stroke="#444" stroke-width="1.1"/>
<path d="M610.0,659.0 L624.0,653.0 L639.0,661.0 L625.0,667.0Z" fill="#fff" stroke="#444" stroke-width="1.2" stroke-linejoin="round"/>
<path d="M610.0,659.0 L625.0,667.0 L625.0,686.0 L610.0,678.0Z" fill="#fff" stroke="#444" stroke-width="1.2" stroke-linejoin="round"/>
<path d="M612.5,661.0 L612.5,679.0" fill="none" stroke="#444" stroke-width="0.9"/>
<path d="M625.0,667.0 L639.0,661.0 L639.0,680.0 L625.0,686.0Z" fill="#fff" stroke="#444" stroke-width="1.2" stroke-linejoin="round"/>
<path d="M627.5,667.0 L627.5,685.0" fill="none" stroke="#444" stroke-width="0.9"/>
<path d="M636,659 l3,-4 l2,5" fill="none" stroke="#444" stroke-width="1.1"/>
<path d="M628.0,670.0 L642.0,664.0 L657.0,672.0 L643.0,678.0Z" fill="#fff" stroke="#444" stroke-width="1.2" stroke-linejoin="round"/>
<path d="M628.0,670.0 L643.0,678.0 L643.0,697.0 L628.0,689.0Z" fill="#fff" stroke="#444" stroke-width="1.2" stroke-linejoin="round"/>
<path d="M630.5,672.0 L630.5,690.0" fill="none" stroke="#444" stroke-width="0.9"/>
<path d="M643.0,678.0 L657.0,672.0 L657.0,691.0 L643.0,697.0Z" fill="#fff" stroke="#444" stroke-width="1.2" stroke-linejoin="round"/>
<path d="M645.5,678.0 L645.5,696.0" fill="none" stroke="#444" stroke-width="0.9"/>
<path d="M654,670 l3,-4 l2,5" fill="none" stroke="#444" stroke-width="1.1"/>
<path d="M650.0,610.0 L662.0,602.0 L682.0,614.0 L682.0,639.0 L670.0,647.0 L650.0,635.0Z" fill="#fff" stroke="#444" stroke-width="1.2" stroke-linejoin="round"/>
<path d="M650.0,610.0 L670.0,622.0 L682.0,614.0" fill="none" stroke="#444" stroke-width="1.3"/>
<path d="M670.0,622.0 L670.0,647.0" fill="none" stroke="#444" stroke-width="1.3"/>
<path d="M654,615 l1,2 m4,-1 l1,3 m-6,3 l1,3 m4,-1 l1,3 m3,-4 l1,3 m-9,6 l2,2 m3,-1 l1,3 m4,-2 l0,3 m-13,2 l2,1 m4,1 l2,1" stroke="#444" stroke-width="1.8" fill="none"/>
<ellipse cx="658" cy="640" rx="2.2" ry="1.5" fill="#fff" stroke="#444" stroke-width="1.2" transform="rotate(0 658 640)"/>
<path d="M648.0,633.0 L656.0,631.0 L672.0,640.0 L664.0,644.0Z" fill="#fff" stroke="#444" stroke-width="1.2" stroke-linejoin="round"/>
<path d="M668.0,621.0 L680.0,613.0 L700.0,625.0 L700.0,650.0 L688.0,658.0 L668.0,646.0Z" fill="#fff" stroke="#444" stroke-width="1.2" stroke-linejoin="round"/>
<path d="M668.0,621.0 L688.0,633.0 L700.0,625.0" fill="none" stroke="#444" stroke-width="1.3"/>
<path d="M688.0,633.0 L688.0,658.0" fill="none" stroke="#444" stroke-width="1.3"/>
<path d="M672,626 l1,2 m4,-1 l1,3 m-6,3 l1,3 m4,-1 l1,3 m3,-4 l1,3 m-9,6 l2,2 m3,-1 l1,3 m4,-2 l0,3 m-13,2 l2,1 m4,1 l2,1" stroke="#444" stroke-width="1.8" fill="none"/>
<ellipse cx="676" cy="651" rx="2.2" ry="1.5" fill="#fff" stroke="#444" stroke-width="1.2" transform="rotate(0 676 651)"/>
<path d="M666.0,644.0 L674.0,642.0 L690.0,651.0 L682.0,655.0Z" fill="#fff" stroke="#444" stroke-width="1.2" stroke-linejoin="round"/>
<path d="M687.0,634.0 L699.0,626.0 L719.0,638.0 L719.0,663.0 L707.0,671.0 L687.0,659.0Z" fill="#fff" stroke="#444" stroke-width="1.2" stroke-linejoin="round"/>
<path d="M687.0,634.0 L707.0,646.0 L719.0,638.0" fill="none" stroke="#444" stroke-width="1.3"/>
<path d="M707.0,646.0 L707.0,671.0" fill="none" stroke="#444" stroke-width="1.3"/>
<path d="M691,639 l1,2 m4,-1 l1,3 m-6,3 l1,3 m4,-1 l1,3 m3,-4 l1,3 m-9,6 l2,2 m3,-1 l1,3 m4,-2 l0,3 m-13,2 l2,1 m4,1 l2,1" stroke="#444" stroke-width="1.8" fill="none"/>
<ellipse cx="695" cy="664" rx="2.2" ry="1.5" fill="#fff" stroke="#444" stroke-width="1.2" transform="rotate(0 695 664)"/>
<path d="M685.0,657.0 L693.0,655.0 L709.0,664.0 L701.0,668.0Z" fill="#fff" stroke="#444" stroke-width="1.2" stroke-linejoin="round"/>
<path d="M719.0,640.0 L719.0,666.0 L710.0,670.0" fill="none" stroke="#444" stroke-width="1.2"/>
<path d="M722.0,618.0 L733.0,612.0 L745.0,618.0 L745.0,638.0 L734.0,644.0 L722.0,638.0Z" fill="#fff" stroke="#444" stroke-width="1.2" stroke-linejoin="round"/>
<path d="M723,618 l10,-5 l11,6 l-10,5z" fill="#999" stroke="#333"/>
<path d="M734.0,624.0 L734.0,644.0" fill="none" stroke="#444" stroke-width="1.3"/>
<path d="M479.7,779.8 L479.7,729.6 Q484,721 491.2,722.4 Q496.6,722.5 496.6,725.4 L496.6,773.8 Q492,782 484.5,783.5 Q479.7,784 479.7,779.8 Z" fill="#fff" stroke="#444" stroke-width="1.3"/>
<ellipse cx="488.8" cy="733.9" rx="2.4" ry="3" fill="#fff" stroke="#444" stroke-width="1.2" transform="rotate(20 488.8 733.9)"/>
<ellipse cx="491.2" cy="773.2" rx="3.2" ry="3.4" fill="#fff" stroke="#444" stroke-width="1.2" transform="rotate(0 491.2 773.2)"/>
<path d="M503.9,794.4 L503.9,743.5 Q508,735 514.8,736.3 Q520.2,737 520.2,740 L520.2,788.3 Q516,796 509.3,796.8 Q503.9,797.5 503.9,794.4 Z" fill="#fff" stroke="#444" stroke-width="1.3"/>
<ellipse cx="512.3" cy="747.2" rx="2" ry="2.6" fill="#fff" stroke="#444" stroke-width="1.2" transform="rotate(20 512.3 747.2)"/>
<ellipse cx="512.3" cy="785.9" rx="2.4" ry="3" fill="#fff" stroke="#444" stroke-width="1.2" transform="rotate(20 512.3 785.9)"/>
<path d="M481.5,731.0 L481.5,780.0" fill="none" stroke="#444" stroke-width="0.8"/>
<path d="M505.7,745.0 L505.7,795.0" fill="none" stroke="#444" stroke-width="0.8"/>
<path d="M459,715 L479,725 M456.5,720.5 L477,730.5" stroke="#444" stroke-width="1.2"/>
<path d="M477.0,730.5 L479.0,725.0" fill="none" stroke="#444" stroke-width="1.2"/>
<ellipse cx="458" cy="717.5" rx="4.2" ry="4.6" fill="#555" stroke="#333" stroke-width="1.6"/>
<ellipse cx="458" cy="716.9" rx="1.8900000000000001" ry="1.8399999999999999" fill="#fff" stroke="#444" stroke-width="0.9"/>
<path d="M449,748 L466,755.5 M446.5,753.5 L464.5,760" stroke="#444" stroke-width="1.2"/>
<path d="M464.5,760.0 L466.0,755.5" fill="none" stroke="#444" stroke-width="1.2"/>
<ellipse cx="448" cy="750.5" rx="4.2" ry="4.6" fill="#555" stroke="#333" stroke-width="1.6"/>
<ellipse cx="448" cy="749.9" rx="1.8900000000000001" ry="1.8399999999999999" fill="#fff" stroke="#444" stroke-width="0.9"/>
<ellipse cx="469.5" cy="762" rx="2.8" ry="4.3" fill="#fff" stroke="#444" stroke-width="1.6" transform="rotate(15 469.5 762)"/>
<path d="M474.0,766.0 L480.0,771.0" fill="none" stroke="#555" stroke-width="1.0" stroke-dasharray="3 2.2"/>
<path d="M476.0,724.0 L482.0,728.0" fill="none" stroke="#555" stroke-width="1.0" stroke-dasharray="3 2.2"/>
<path d="M495.0,732.0 L505.0,738.0" fill="none" stroke="#555" stroke-width="1.0" stroke-dasharray="3 2.2"/>
<path d="M497.0,774.0 L505.0,778.0" fill="none" stroke="#555" stroke-width="1.0" stroke-dasharray="3 2.2"/>
<path d="M520.0,745.0 L535.0,755.0" fill="none" stroke="#555" stroke-width="1.0" stroke-dasharray="3 2.2"/>
<path d="M520.0,788.0 L530.0,792.0" fill="none" stroke="#555" stroke-width="1.0" stroke-dasharray="3 2.2"/>
<path d="M534.7,804 L534.7,760.5 Q536,753 541.4,754.4 Q544,755 546.8,765.3 L549,770 L549,800 Z" fill="#fff" stroke="#444" stroke-width="1.3"/>
<ellipse cx="540.5" cy="762" rx="2.4" ry="3.5" fill="#fff" stroke="#444" stroke-width="1.2" transform="rotate(15 540.5 762)"/>
<path d="M549.8,766.5 L553.5,764.5 L583.0,781.0 L583.1,811.3 L579.0,813.7 L549.8,797.0Z" fill="#fff" stroke="#444" stroke-width="1.2" stroke-linejoin="round"/>
<path d="M553.5,768.0 L579.0,783.5 L579.0,813.7" fill="none" stroke="#444" stroke-width="1.3"/>
<path d="M579.0,783.5 L583.0,781.0" fill="none" stroke="#444" stroke-width="1.3"/>
<path d="M551.0,768.0 L551.0,796.0" fill="none" stroke="#444" stroke-width="2.2"/>
<path d="M534.0,793.0 L546.0,779.0 L560.0,776.0 L569.0,781.0 L572.0,797.0 L562.0,811.0 L546.0,816.0 L534.0,809.0Z" fill="#fff" stroke="#444" stroke-width="1.2" stroke-linejoin="round"/>
<ellipse cx="541" cy="801" rx="7" ry="11" fill="#fff" stroke="#444" stroke-width="1.2" transform="rotate(-25 541 801)"/>
<ellipse cx="555" cy="795" rx="6" ry="10" fill="#fff" stroke="#444" stroke-width="1.2" transform="rotate(-25 555 795)"/>
<path d="M560.0,781.0 L566.0,810.0" fill="none" stroke="#444" stroke-width="1.3"/>
<path d="M562.0,790.0 L575.0,793.0" fill="none" stroke="#444" stroke-width="1.3"/>
<path d="M532,800 l-7,-4 m7,16 l-7,-4" stroke="#444" stroke-width="2.4"/>
<ellipse cx="597.4" cy="796.3" rx="5" ry="6" fill="#fff" stroke="#333" stroke-width="1.6"/>
<ellipse cx="597.4" cy="795.6999999999999" rx="2.25" ry="2.4000000000000004" fill="#fff" stroke="#444" stroke-width="0.9"/>
<ellipse cx="597" cy="834.8" rx="5" ry="6" fill="#fff" stroke="#333" stroke-width="1.6"/>
<ellipse cx="597" cy="834.1999999999999" rx="2.25" ry="2.4000000000000004" fill="#fff" stroke="#444" stroke-width="0.9"/>
<ellipse cx="510.2" cy="811.2" rx="5" ry="5.5" fill="#fff" stroke="#333" stroke-width="1.6"/>
<ellipse cx="510.2" cy="810.6" rx="2.25" ry="2.2" fill="#fff" stroke="#444" stroke-width="0.9"/>
<ellipse cx="514.5" cy="825.4" rx="5" ry="5.5" fill="#fff" stroke="#333" stroke-width="1.6"/>
<ellipse cx="514.5" cy="824.8" rx="2.25" ry="2.2" fill="#fff" stroke="#444" stroke-width="0.9"/>
<ellipse cx="520" cy="804.5" rx="2.8" ry="3.8" fill="#fff" stroke="#444" stroke-width="1.5" transform="rotate(0 520 804.5)"/>
<ellipse cx="522.6" cy="820" rx="2.8" ry="3.8" fill="#fff" stroke="#444" stroke-width="1.5" transform="rotate(0 522.6 820)"/>
<path d="M584.0,797.0 L593.0,796.0" fill="none" stroke="#555" stroke-width="1.0" stroke-dasharray="3 2.2"/>
<path d="M570.0,812.0 L592.0,833.0" fill="none" stroke="#555" stroke-width="1.0" stroke-dasharray="3 2.2"/>
<path d="M845.0,377.0 L846.0,387.0 L850.0,393.0 L856.0,394.0 L861.0,388.0 L862.7,378.0Z" fill="#fff" stroke="#444" stroke-width="1.2" stroke-linejoin="round"/>
<ellipse cx="853.8" cy="375" rx="9" ry="5.5" fill="#fff" stroke="#444" stroke-width="1.5" transform="rotate(0 853.8 375)"/>
<ellipse cx="853.8" cy="373.5" rx="5" ry="3" fill="#fff" stroke="#444" stroke-width="1.2" transform="rotate(0 853.8 373.5)"/>
<path d="M847.0,387.0 L846.0,396.0 L851.0,399.2 L852.0,392.0Z" fill="#fff" stroke="#444" stroke-width="1.2" stroke-linejoin="round"/>
<path d="M853.0,392.0 L852.0,399.0 L858.0,397.0 L859.0,390.0Z" fill="#fff" stroke="#444" stroke-width="1.2" stroke-linejoin="round"/>
<path d="M830.0,474.0 L836.0,456.0 L846.5,459.0 L840.0,478.0Z" fill="#fff" stroke="#444" stroke-width="1.2" stroke-linejoin="round"/>
<path d="M834.0,476.0 L840.0,458.0" fill="none" stroke="#444" stroke-width="1.3"/>
<path d="M828,490 L833,478 M828,490 L840,479" stroke="#444" stroke-width="1.2" fill="none"/>
<path d="M907.0,350.0 L913.0,339.0 L931.0,340.0 L929.0,353.0 L921.0,365.0 L909.0,362.0Z" fill="#8a8a8a" stroke="#222" stroke-width="1.6" stroke-linejoin="round"/>
<path d="M913,346 l12,-3 M911,351 l13,-3 M910,356 l12,-3 M914,341 l10,0" stroke="#333" stroke-width="1.4"/>
<path d="M919,343 h8 v5 h-8 z" fill="#ddd" stroke="#333" stroke-width="1"/>
<path d="M911.0,365.0 L909.0,375.0" fill="none" stroke="#444" stroke-width="3"/>
<path d="M873,404 L869.2,421 L870,439 Q885,448 902.6,441.3 L911.3,424 L916,417 Z" fill="#fff" stroke="#444" stroke-width="1.3"/>
<path d="M870.0,437.0 L869.0,450.0 L875.0,452.0 L876.0,442.0Z" fill="#fff" stroke="#444" stroke-width="1.2" stroke-linejoin="round"/>
<path d="M877.0,442.0 L876.0,453.0 L882.0,455.0 L883.0,445.0Z" fill="#fff" stroke="#444" stroke-width="1.2" stroke-linejoin="round"/>
<path d="M884.0,445.0 L883.0,455.0 L889.0,457.0 L891.0,447.0Z" fill="#fff" stroke="#444" stroke-width="1.2" stroke-linejoin="round"/>
<path d="M893.0,446.0 L890.0,458.0" fill="none" stroke="#444" stroke-width="1.6"/>
<path d="M875.0,422.0 L876.0,441.0" fill="none" stroke="#444" stroke-width="1.3"/>
<path d="M882.0,424.0 L883.0,444.0" fill="none" stroke="#444" stroke-width="1.3"/>
<path d="M897.0,428.0 L907.0,429.0" fill="none" stroke="#444" stroke-width="1.3"/>
<ellipse cx="894.6" cy="410" rx="22.5" ry="8.5" fill="#fff" stroke="#444" stroke-width="1.4" transform="rotate(20 894.6 410)"/>
<path d="M881,404 l5,2 m4,1 l5,2 m-14,3 l5,2 m4,1 l5,2" stroke="#333" stroke-width="3"/>
<path d="M841.6,506.6 L850.3,487.8 L873.6,496.5 L867.8,517.5Z" fill="#fff" stroke="#444" stroke-width="1.2" stroke-linejoin="round"/>
<path d="M850.3,487.8 Q862,488 873.6,496.5" stroke="#222" stroke-width="2.2" fill="none"/>
<path d="M846.0,505.0 L854.0,489.0" fill="none" stroke="#444" stroke-width="1.3"/>
<path d="M851.0,508.0 L859.0,491.0" fill="none" stroke="#444" stroke-width="1.3"/>
<path d="M856.0,511.0 L864.0,493.0" fill="none" stroke="#444" stroke-width="1.3"/>
<path d="M861.0,514.0 L869.0,495.0" fill="none" stroke="#444" stroke-width="1.3"/>
<path d="M849,511 L853,523 M855,514 L856,524 M860,516 L857,524" stroke="#444" stroke-width="1" fill="none"/>
<path d="M914,585 L914.5,596 Q933,611 952,596 L952.6,585" fill="#fff" stroke="#444" stroke-width="1.3"/>
<ellipse cx="933.3" cy="585" rx="19.3" ry="8.5" fill="#fff" stroke="#444" stroke-width="1.3" transform="rotate(0 933.3 585)"/>
<path d="M921,583 L921.5,590 Q933,597 945,590 L945.5,583" fill="#fff" stroke="#444" stroke-width="1.2"/>
<ellipse cx="933.3" cy="582" rx="12" ry="5" fill="#fff" stroke="#444" stroke-width="1.2" transform="rotate(0 933.3 582)"/>
<ellipse cx="933.3" cy="581" rx="5" ry="2.2" fill="#fff" stroke="#444" stroke-width="1.1" transform="rotate(0 933.3 581)"/>
<path d="M914.5,594.0 L952.0,594.0" fill="none" stroke="#444" stroke-width="0"/>
<path d="M931,607 L925,651 M935,607 L929,651" stroke="#555" stroke-width="1.6" stroke-dasharray="2 1"/>
<path d="M922.3,652.0 L929.0,649.0 L935.3,651.0 L933.0,669.0 L926.0,671.6 L921.0,669.0Z" fill="#fff" stroke="#444" stroke-width="1.2" stroke-linejoin="round"/>
<path d="M928.0,652.0 L927.0,670.0" fill="none" stroke="#444" stroke-width="1.3"/>
<path d="M1186.8,272.7 L1252.4,225.7 L1264.8,234.6 L1198.0,282.0Z" fill="#fff" stroke="#444" stroke-width="1.2" stroke-linejoin="round"/>
<path d="M1198.0,282.0 L1264.8,234.6 L1270.1,265.6 L1210.7,310.9Z" fill="#fff" stroke="#444" stroke-width="1.2" stroke-linejoin="round"/>
<path d="M1186.8,272.7 L1198.0,282.0 L1210.7,310.9 L1187.6,306.4Z" fill="#fff" stroke="#444" stroke-width="1.2" stroke-linejoin="round"/>
<path d="M1200.0,288.0 L1266.0,241.0" fill="none" stroke="#444" stroke-width="1"/>
<path d="M1191,278 l3,20 m4,-16 l2,18" stroke="#444" stroke-width="2"/>
<path d="M1202,292 l5,14 m2,-16 l5,12" stroke="#555" stroke-width="2.2"/>
<ellipse cx="1240.3" cy="220.6" rx="3" ry="3" fill="#fff" stroke="#333" stroke-width="1.6"/>
<ellipse cx="1240.3" cy="220.0" rx="1.35" ry="1.2000000000000002" fill="#fff" stroke="#444" stroke-width="0.9"/>
<ellipse cx="1174.2" cy="293.1" rx="2.8" ry="2.8" fill="#fff" stroke="#333" stroke-width="1.6"/>
<ellipse cx="1174.2" cy="292.5" rx="1.26" ry="1.1199999999999999" fill="#fff" stroke="#444" stroke-width="0.9"/>
<path d="M1286,241 l5,5" stroke="#444" stroke-width="2.5"/>
<ellipse cx="1290.5" cy="246" rx="3" ry="3" fill="#fff" stroke="#333" stroke-width="1.6"/>
<ellipse cx="1290.5" cy="245.4" rx="1.35" ry="1.2000000000000002" fill="#fff" stroke="#444" stroke-width="0.9"/>
<path d="M1216,312 l5,5" stroke="#444" stroke-width="2.5"/>
<ellipse cx="1221" cy="317.5" rx="3" ry="3" fill="#fff" stroke="#333" stroke-width="1.6"/>
<ellipse cx="1221" cy="316.9" rx="1.35" ry="1.2000000000000002" fill="#fff" stroke="#444" stroke-width="0.9"/>
<path d="M1244.0,222.0 L1255.0,228.0" fill="none" stroke="#555" stroke-width="1.0" stroke-dasharray="3 2.2"/>
<path d="M1268.0,234.0 L1287.0,243.0" fill="none" stroke="#555" stroke-width="1.0" stroke-dasharray="3 2.2"/>
<path d="M1178.0,294.0 L1186.0,297.0" fill="none" stroke="#555" stroke-width="1.0" stroke-dasharray="3 2.2"/>
<path d="M1205.0,311.0 L1216.0,314.0" fill="none" stroke="#555" stroke-width="1.0" stroke-dasharray="3 2.2"/>
<path d="M1094.0,348.0 L1100.0,343.0 L1112.0,341.0 L1138.0,352.0 L1138.0,360.0 L1131.0,363.0Z" fill="#fff" stroke="#333" stroke-width="1.2" stroke-linejoin="round"/>
<path d="M1100,348 l8,-4 m-2,6 l8,-4 m-2,6 l8,-4 m-2,6 l8,-4" stroke="#444" stroke-width="2.4"/>
<path d="M1094.0,348.0 L1131.0,363.0 L1131.0,391.6 L1093.6,383.0Z" fill="#fff" stroke="#444" stroke-width="1.2" stroke-linejoin="round"/>
<path d="M1131.0,363.0 L1138.0,360.0 L1137.0,379.0 L1131.0,391.6Z" fill="#fff" stroke="#444" stroke-width="1.2" stroke-linejoin="round"/>
<path d="M1099,356 v10 h5 v-10 z M1106,358 v10 h5 v-10 z M1114,361 v10 h5 v-10 z" fill="none" stroke="#444" stroke-width="1.2"/>
<path d="M1095.0,353.0 L1132.0,367.0" fill="none" stroke="#444" stroke-width="1"/>
<path d="M1084.5,417.0 L1102.0,410.7 L1119.7,416.0 L1117.0,436.0 L1100.0,441.3 L1085.0,435.0Z" fill="#fff" stroke="#444" stroke-width="1.2" stroke-linejoin="round"/>
<path d="M1084.5,417.0 L1102.0,410.7 L1119.7,416.0 L1102.0,422.0Z" fill="#fff" stroke="#444" stroke-width="1.2" stroke-linejoin="round"/>
<path d="M1089,416.5 l3,-1 m3,-1 l3,-1 m3,-1 l3,-1 m-12,7 l3,-1 m3,-1 l3,-1 m3,-1 l3,-1" stroke="#333" stroke-width="2.2"/>
<path d="M1102.0,422.0 L1100.0,441.3" fill="none" stroke="#444" stroke-width="1.3"/>
<path d="M1232.0,404.0 L1240.0,399.5 L1247.0,404.0 L1240.0,408.0Z" fill="#fff" stroke="#444" stroke-width="1.2" stroke-linejoin="round"/>
<path d="M1232.0,404.0 L1240.0,408.0 L1239.0,419.0 L1231.0,414.0Z" fill="#fff" stroke="#444" stroke-width="1.2" stroke-linejoin="round"/>
<path d="M1240.0,408.0 L1247.0,404.0 L1246.0,414.0 L1239.0,419.0Z" fill="#fff" stroke="#444" stroke-width="1.2" stroke-linejoin="round"/>
<path d="M1233,409 l5,2 m-5,2 l5,2 m-3,-11 l6,-3" stroke="#222" stroke-width="2.2"/>
<path d="M1207.0,458.0 L1213.0,452.0 L1242.0,456.0 L1236.0,463.0Z" fill="#fff" stroke="#444" stroke-width="1.2" stroke-linejoin="round"/>
<path d="M1207.0,458.0 L1236.0,463.0 L1230.0,502.4 L1201.0,497.0Z" fill="#fff" stroke="#444" stroke-width="1.2" stroke-linejoin="round"/>
<path d="M1236.0,463.0 L1242.0,456.0 L1241.8,470.0 L1236.0,480.0Z" fill="#fff" stroke="#444" stroke-width="1.2" stroke-linejoin="round"/>
<rect x="1225" y="448" width="7" height="9" rx="3" fill="#fff" stroke="#444" stroke-width="1.2"/>
<path d="M1213.0,461.0 L1212.0,470.0" fill="none" stroke="#444" stroke-width="1.3"/>
<path d="M1221.0,463.0 L1220.0,472.0" fill="none" stroke="#444" stroke-width="1.3"/>
<path d="M1233.0,466.0 L1240.0,468.0 L1236.0,484.0 L1230.0,482.0Z" fill="#fff" stroke="#444" stroke-width="1.2" stroke-linejoin="round"/>
<path d="M1112.3,508.0 L1120.0,501.6 L1137.4,507.0 L1135.0,527.0 L1128.0,529.5 L1112.3,524.0Z" fill="#fff" stroke="#444" stroke-width="1.2" stroke-linejoin="round"/>
<path d="M1112.3,508.0 L1120.0,501.6 L1137.4,507.0 L1129.0,512.0Z" fill="#fff" stroke="#444" stroke-width="1.2" stroke-linejoin="round"/>
<path d="M1119.0,511.0 L1117.0,526.0" fill="none" stroke="#444" stroke-width="1.4"/>
<path d="M1125.0,513.0 L1123.0,528.0" fill="none" stroke="#444" stroke-width="1.4"/>
<path d="M1129.0,512.0 L1128.0,529.5" fill="none" stroke="#444" stroke-width="1.3"/>
<path d="M1116,506 l6,-3 m2,5 l6,-3" stroke="#333" stroke-width="2"/>
<path d="M1368.2,335.6 L1394.1,313.3 L1404.5,319.6 L1378.6,341.8Z" fill="#fff" stroke="#444" stroke-width="1.2" stroke-linejoin="round"/>
<path d="M1378.6,341.8 L1404.5,319.6 L1410.4,331.1 L1381.2,354.1Z" fill="#fff" stroke="#444" stroke-width="1.2" stroke-linejoin="round"/>
<path d="M1368.2,335.6 L1378.6,341.8 L1381.2,354.1 L1370.4,349.2Z" fill="#fff" stroke="#444" stroke-width="1.2" stroke-linejoin="round"/>
<path d="M1381.0,323.0 L1388.0,317.5 L1392.0,321.0 L1385.0,327.0Z" fill="#fff" stroke="#444" stroke-width="1.2" stroke-linejoin="round"/>
<path d="M1394.0,313.0 l-3,-5 l4,-2 l4,4 M1404.0,318.0 l1,-6 l5,1 l2,8 l0,10 M1400.0,326.0 l5,-3 m-5,9 l5,-3" fill="none" stroke="#444" stroke-width="1.3"/>
<path d="M1499.2,391.6 L1525.1,369.3 L1535.5,375.6 L1509.6,397.8Z" fill="#fff" stroke="#444" stroke-width="1.2" stroke-linejoin="round"/>
<path d="M1509.6,397.8 L1535.5,375.6 L1541.4,387.1 L1512.2,410.1Z" fill="#fff" stroke="#444" stroke-width="1.2" stroke-linejoin="round"/>
<path d="M1499.2,391.6 L1509.6,397.8 L1512.2,410.1 L1501.4,405.2Z" fill="#fff" stroke="#444" stroke-width="1.2" stroke-linejoin="round"/>
<path d="M1512.0,379.0 L1519.0,373.5 L1523.0,377.0 L1516.0,383.0Z" fill="#fff" stroke="#444" stroke-width="1.2" stroke-linejoin="round"/>
<path d="M1525.0,369.0 l-3,-5 l4,-2 l4,4 M1535.0,374.0 l1,-6 l5,1 l2,8 l0,10 M1531.0,382.0 l5,-3 m-5,9 l5,-3" fill="none" stroke="#444" stroke-width="1.3"/>
<path d="M1324.5,378.6 L1334.0,369.0 L1347.4,381.5 L1337.8,390.4Z" fill="#fff" stroke="#444" stroke-width="1.2" stroke-linejoin="round"/>
<path d="M1319.3,383.0 L1324.5,378.6 L1337.8,390.4 L1331.9,397.0 L1319.3,392.0Z" fill="#fff" stroke="#444" stroke-width="1.2" stroke-linejoin="round"/>
<path d="M1319.3,383 L1324.5,378.6 L1330,384 L1326,394 L1319.3,392 Z" fill="#777" stroke="#333" stroke-width="1"/>
<path d="M1334.0,369.0 L1341.0,387.0" fill="none" stroke="#444" stroke-width="1"/>
<g transform="translate(152,42)">
<path d="M1324.5,378.6 L1334.0,369.0 L1347.4,381.5 L1337.8,390.4Z" fill="#fff" stroke="#444" stroke-width="1.2" stroke-linejoin="round"/>
<path d="M1319.3,383.0 L1324.5,378.6 L1337.8,390.4 L1331.9,397.0 L1319.3,392.0Z" fill="#fff" stroke="#444" stroke-width="1.2" stroke-linejoin="round"/>
<path d="M1319.3,383 L1324.5,378.6 L1330,384 L1326,394 L1319.3,392 Z" fill="#777" stroke="#333" stroke-width="1"/>
<path d="M1334.0,369.0 L1341.0,387.0" fill="none" stroke="#444" stroke-width="1"/>
</g>
<path d="M1377.0,505.0 L1388.0,499.0 L1398.0,505.0 L1396.0,515.0 L1386.0,520.0 L1378.0,514.0Z" fill="#fff" stroke="#444" stroke-width="1.2" stroke-linejoin="round"/>
<path d="M1380,515 C1365,525 1368,545 1378,537 C1386,530 1395,520 1390,517 M1385,517 C1375,530 1378,545 1392,535 C1400,528 1398,517 1392,515" fill="none" stroke="#444" stroke-width="1.2"/>
<path d="M1496.3,320.0 L1500.0,305.0 L1515.0,290.0 L1527.0,287.0 L1533.0,300.0 L1533.0,323.0 L1505.0,334.1 L1498.0,330.0Z" fill="#fff" stroke="#444" stroke-width="1.2" stroke-linejoin="round"/>
<path d="M1505,305 L1531,294 L1533,322 L1506,333 Z" fill="#888" stroke="#222" stroke-width="1.2"/>
<path d="M1507,311 l24,-10 M1507,318 l24,-10 M1507,325 l24,-10" stroke="#ccc" stroke-width="1"/>
<path d="M1513.0,289.0 L1523.0,283.7 L1531.0,291.0 L1520.0,297.0Z" fill="#fff" stroke="#444" stroke-width="1.2" stroke-linejoin="round"/>
<path d="M1480.0,290.0 L1493.0,282.0 L1500.0,286.0 L1499.0,296.0 L1486.0,303.0 L1478.0,300.0Z" fill="#fff" stroke="#444" stroke-width="1.2" stroke-linejoin="round"/>
<ellipse cx="1488" cy="290" rx="2" ry="2" fill="#555" stroke="#444" stroke-width="1.2" transform="rotate(0 1488 290)"/>
<ellipse cx="1494" cy="287" rx="2" ry="2" fill="#555" stroke="#444" stroke-width="1.2" transform="rotate(0 1494 287)"/>
<path d="M1477,296 l4,6" stroke="#333" stroke-width="3"/>
<ellipse cx="1461.9" cy="270.2" rx="3.4" ry="4" fill="#555" stroke="#333" stroke-width="1.6"/>
<ellipse cx="1461.9" cy="269.59999999999997" rx="1.53" ry="1.6" fill="#fff" stroke="#444" stroke-width="0.9"/>
<ellipse cx="1472.5" cy="275" rx="3.4" ry="4" fill="#555" stroke="#333" stroke-width="1.6"/>
<ellipse cx="1472.5" cy="274.4" rx="1.53" ry="1.6" fill="#fff" stroke="#444" stroke-width="0.9"/>
<ellipse cx="1460.9" cy="279" rx="3.4" ry="4" fill="#555" stroke="#333" stroke-width="1.6"/>
<ellipse cx="1460.9" cy="278.4" rx="1.53" ry="1.6" fill="#fff" stroke="#444" stroke-width="0.9"/>
<path d="M1476.0,276.0 L1490.0,284.0" fill="none" stroke="#555" stroke-width="1.0" stroke-dasharray="3 2.2"/>
<path d="M1464.0,281.0 L1480.0,290.0" fill="none" stroke="#555" stroke-width="1.0" stroke-dasharray="3 2.2"/>
<path d="M1500.0,290.0 L1510.0,300.0" fill="none" stroke="#555" stroke-width="1.0" stroke-dasharray="3 2.2"/>
<path d="M1525.0,290.0 L1538.0,281.0" fill="none" stroke="#555" stroke-width="1.0" stroke-dasharray="3 2.2"/>
<path d="M1539,284 l6,-5 M1539,300 l6,-5" stroke="#444" stroke-width="3"/>
<path d="M1540,286 l7,-6 M1540,302 l7,-6" stroke="#fff" stroke-width="1.2"/>
<ellipse cx="1546" cy="279" rx="2.5" ry="3" fill="#fff" stroke="#333" stroke-width="1.6"/>
<ellipse cx="1546" cy="278.4" rx="1.125" ry="1.2000000000000002" fill="#fff" stroke="#444" stroke-width="0.9"/>
<ellipse cx="1546" cy="295.5" rx="2.5" ry="3" fill="#fff" stroke="#333" stroke-width="1.6"/>
<ellipse cx="1546" cy="294.9" rx="1.125" ry="1.2000000000000002" fill="#fff" stroke="#444" stroke-width="0.9"/>
<path d="M1620.4,197.5 L1679.5,170.4 L1681.4,171.3 L1681.4,180.0 L1676.6,182.0 L1626.0,206.2 L1621.3,204.3Z" fill="#fff" stroke="#444" stroke-width="1.3" stroke-linejoin="round"/>
<path d="M1621,199 L1680,172" stroke="#333" stroke-width="2.6" stroke-dasharray="1.3 1"/>
<path d="M1626.0,206.2 L1625.0,201.0" fill="none" stroke="#444" stroke-width="1.3"/>
<path d="M1676.6,182.0 L1677.0,176.0" fill="none" stroke="#444" stroke-width="1.3"/>
<path d="M1535,264.4 L1541,250.8 Q1546,240 1558.3,228.5 L1595,211 L1598,214 L1598,219.8 L1562,235.3 Q1553,243 1542.8,268.2 L1538,270.2 Z" fill="#fff" stroke="#444" stroke-width="1.3"/>
<path d="M1538,262 Q1546,244 1556,234 L1596,215" fill="none" stroke="#555" stroke-width="1"/>
<path d="M1562,230 l3,3 m6,-7 l3,3 m6,-7 l3,3 m6,-7 l3,3 m-44,30 l3,2 m-6,8 l3,2" stroke="#444" stroke-width="1.3"/>
<path d="M1600.0,213.0 L1620.0,203.0" fill="none" stroke="#555" stroke-width="1" stroke-dasharray="3 2.2"/>
<path d="M1427.1,716.0 L1432.0,711.4 L1444.5,718.9 L1440.0,723.5Z" fill="#fff" stroke="#444" stroke-width="1.2" stroke-linejoin="round"/>
<path d="M1427.1,716.0 L1440.0,723.5 L1442.0,729.0 L1428.0,720.3Z" fill="#fff" stroke="#444" stroke-width="1.2" stroke-linejoin="round"/>
<path d="M1440.0,723.5 L1444.5,718.9 L1448.4,727.0 L1442.0,729.0Z" fill="#fff" stroke="#444" stroke-width="1.2" stroke-linejoin="round"/>
<path d="M1430,721 l3,2 m3,1 l3,2" stroke="#333" stroke-width="1.8"/>
<path d="M1462.4,735.0 L1467.0,730.0 L1480.0,737.5 L1476.0,742.0Z" fill="#fff" stroke="#444" stroke-width="1.2" stroke-linejoin="round"/>
<path d="M1462.4,735.0 L1476.0,742.0 L1478.0,750.8 L1464.0,744.0Z" fill="#fff" stroke="#444" stroke-width="1.2" stroke-linejoin="round"/>
<path d="M1476.0,742.0 L1480.0,737.5 L1482.0,746.0 L1478.0,750.8Z" fill="#fff" stroke="#444" stroke-width="1.2" stroke-linejoin="round"/>
<path d="M1463.0,739.0 L1477.0,747.0" fill="none" stroke="#444" stroke-width="1.1"/>
<path d="M880.5,904.0 L908.0,902.0 L922.3,910.8 L895.6,915.6Z" fill="#fff" stroke="#444" stroke-width="1.2" stroke-linejoin="round"/>
<path d="M880.5,904.0 L895.6,915.6 L890.8,931.4 L876.4,923.0Z" fill="#fff" stroke="#444" stroke-width="1.2" stroke-linejoin="round"/>
<path d="M895.6,915.6 L922.3,910.8 L919.6,923.0 L890.8,931.4Z" fill="#fff" stroke="#444" stroke-width="1.2" stroke-linejoin="round"/>
<ellipse cx="882" cy="919" rx="3.5" ry="4" fill="#fff" stroke="#444" stroke-width="1.1" transform="rotate(0 882 919)"/>
<ellipse cx="879.5" cy="919.5" rx="1.5" ry="2" fill="#fff" stroke="#444" stroke-width="1" transform="rotate(0 879.5 919.5)"/>
<path d="M896,929 l3,-10 l6,-1 l-3,10 M903,928 l2,-10" fill="none" stroke="#333" stroke-width="1.4"/>
<path d="M886,905 l10,8" stroke="#444" stroke-width="2" stroke-dasharray="1 1"/>
<path d="M922.0,911.0 L931.0,907.0" fill="none" stroke="#555" stroke-width="1.0" stroke-dasharray="3 2.2"/>
<path d="M931.5,902.0 L935.0,897.0 L952.0,894.5 L960.0,901.0 L958.0,912.0 L944.0,918.4 L933.0,914.0Z" fill="#fff" stroke="#444" stroke-width="1.2" stroke-linejoin="round"/>
<path d="M933,901 L950,897 L959,902 L943,906 Z" fill="#555" stroke="#222" stroke-width="1"/>
<path d="M943.0,906.0 L944.0,918.0" fill="none" stroke="#444" stroke-width="1.3"/>
<path d="M936.0,905.0 L940.0,912.0" fill="none" stroke="#444" stroke-width="1.6"/>
<rect x="182.5" y="749.6" width="6" height="28.4" rx="3" fill="#fff" stroke="#444" stroke-width="1.3"/>
<ellipse cx="185.5" cy="753.6" rx="1.4" ry="1.8" fill="#fff" stroke="#444" stroke-width="1" transform="rotate(0 185.5 753.6)"/>
<ellipse cx="185.5" cy="774.1" rx="1.4" ry="1.8" fill="#fff" stroke="#444" stroke-width="1" transform="rotate(0 185.5 774.1)"/>
<path d="M170.7,760.6 L180,759.1 Q184,763.6 183.5,770.6 L170.7,773.1 Z" fill="#fff" stroke="#444" stroke-width="1.3"/>
<ellipse cx="170.7" cy="766.9" rx="4" ry="6.2" fill="#fff" stroke="#444" stroke-width="1.6" transform="rotate(0 170.7 766.9)"/>
<ellipse cx="171" cy="767.1" rx="2.2" ry="3.8" fill="#fff" stroke="#444" stroke-width="1" transform="rotate(0 171 767.1)"/>
<rect x="453.5" y="922.6" width="6" height="28.4" rx="3" fill="#fff" stroke="#444" stroke-width="1.3"/>
<ellipse cx="456.5" cy="926.6" rx="1.4" ry="1.8" fill="#fff" stroke="#444" stroke-width="1" transform="rotate(0 456.5 926.6)"/>
<ellipse cx="456.5" cy="947.1" rx="1.4" ry="1.8" fill="#fff" stroke="#444" stroke-width="1" transform="rotate(0 456.5 947.1)"/>
<path d="M441.7,933.6 L451,932.1 Q455,936.6 454.5,943.6 L441.7,946.1 Z" fill="#fff" stroke="#444" stroke-width="1.3"/>
<ellipse cx="441.7" cy="939.9" rx="4" ry="6.2" fill="#fff" stroke="#444" stroke-width="1.6" transform="rotate(0 441.7 939.9)"/>
<ellipse cx="442" cy="940.1" rx="2.2" ry="3.8" fill="#fff" stroke="#444" stroke-width="1" transform="rotate(0 442 940.1)"/>
<path d="M144.4,771.5 L152.4,772 Q156.4,775.5 152.4,779 L144.4,779.5" fill="#fff" stroke="#444" stroke-width="1.1"/>
<path d="M138.4,773 L142.4,770 L146.4,772 L146.9,778 L142.9,781 L138.9,779 Z" fill="#999" stroke="#333" stroke-width="1.3"/>
<path d="M140.4,773 l4,5 m0,-5 l-4,5" stroke="#eee" stroke-width="0.9"/>
<path d="M416,944.5 L424,945 Q428,948.5 424,952 L416,952.5" fill="#fff" stroke="#444" stroke-width="1.1"/>
<path d="M410,946 L414,943 L418,945 L418.5,951 L414.5,954 L410.5,952 Z" fill="#999" stroke="#333" stroke-width="1.3"/>
<path d="M412,946 l4,5 m0,-5 l-4,5" stroke="#eee" stroke-width="0.9"/>
<path d="M156.0,775.0 L163.0,772.0" fill="none" stroke="#555" stroke-width="1.0" stroke-dasharray="3 2.2"/>
<path d="M428.0,947.0 L436.0,944.0" fill="none" stroke="#555" stroke-width="1.0" stroke-dasharray="3 2.2"/>
<ellipse cx="257.7" cy="994" rx="23" ry="28" fill="#fff" stroke="#333" stroke-width="2.2" transform="rotate(0 257.7 994)"/>
<ellipse cx="257.7" cy="994" rx="18.5" ry="23.5" fill="#fff" stroke="#444" stroke-width="1.4" transform="rotate(0 257.7 994)"/>
<path d="M246,976 C262,970 272,985 270,1000 C268,1013 252,1018 244,1010" fill="none" stroke="#444" stroke-width="1.3"/>
<path d="M250,980 l0,28 m6,-30 l0,32 m6,-30 l0,28" stroke="#666" stroke-width="1"/>
<ellipse cx="285" cy="987" rx="5" ry="5.5" fill="#fff" stroke="#444" stroke-width="1.2" transform="rotate(0 285 987)"/>
<ellipse cx="316" cy="974" rx="7.5" ry="9" fill="#fff" stroke="#444" stroke-width="1.5" transform="rotate(0 316 974)"/>
<path d="M312,963 l2,-5 m4,4 l4,-3" stroke="#444" stroke-width="1.3"/>
<rect x="78" y="708" width="11.6" height="26.5" fill="#fff" stroke="#444" stroke-width="1.3"/>
<rect x="79" y="743.4" width="12.4" height="25.6" fill="#fff" stroke="#444" stroke-width="1.3"/>
<path d="M78.0,714.0 L89.6,712.0" fill="none" stroke="#444" stroke-width="1.3"/>
<path d="M79.0,748.0 L91.4,746.0" fill="none" stroke="#444" stroke-width="1.3"/>
<rect x="367.4" y="876" width="11.6" height="24.6" fill="#fff" stroke="#444" stroke-width="1.3"/>
<rect x="368.7" y="909.7" width="11.6" height="25.8" fill="#fff" stroke="#444" stroke-width="1.3"/>
<path d="M367.4,882.0 L379.0,880.0" fill="none" stroke="#444" stroke-width="1.3"/>
<path d="M368.7,914.0 L380.3,912.0" fill="none" stroke="#444" stroke-width="1.3"/>
<path d="M114.5,994.0 L134.0,984.5 L140.3,992.0 L136.0,1001.0 L118.0,1005.0Z" fill="#fff" stroke="#444" stroke-width="1.2" stroke-linejoin="round"/>
<path d="M122,998 l12,-7" stroke="#444" stroke-width="3"/>
<path d="M405.0,1062.0 L414.0,1058.0 L420.0,1064.0 L418.0,1072.0 L408.0,1075.0Z" fill="#fff" stroke="#444" stroke-width="1.2" stroke-linejoin="round"/>
<path d="M407,1067 l9,-5" stroke="#444" stroke-width="3"/>
<ellipse cx="589.5" cy="915" rx="5.5" ry="5.5" fill="#fff" stroke="#333" stroke-width="1.6"/>
<ellipse cx="589.5" cy="914.4" rx="2.475" ry="2.2" fill="#fff" stroke="#444" stroke-width="0.9"/>
<path d="M597.5,911.0 L609.0,903.0 L622.0,909.0 L611.0,917.0Z" fill="#fff" stroke="#444" stroke-width="1.2" stroke-linejoin="round"/>
<path d="M597.5,911.0 L611.0,917.0 L611.0,930.8 L598.0,925.0Z" fill="#fff" stroke="#444" stroke-width="1.2" stroke-linejoin="round"/>
<path d="M611.0,917.0 L622.0,909.0 L622.0,922.0 L611.0,930.8Z" fill="#fff" stroke="#444" stroke-width="1.2" stroke-linejoin="round"/>
<path d="M600,913 l9,4 m-9,1 l9,4 m-9,1 l9,4" stroke="#333" stroke-width="2"/>
<path d="M617.0,912.0 L617.0,926.0" fill="none" stroke="#444" stroke-width="1"/>
<path d="M581,958 L578,938" stroke="#444" stroke-width="6"/><path d="M581,958 L578,938" stroke="#fff" stroke-width="3.4"/>
<path d="M574.0,928.0 L578.0,920.6 L586.5,923.0 L584.0,936.0 L577.0,936.0Z" fill="#fff" stroke="#444" stroke-width="1.2" stroke-linejoin="round"/>
<ellipse cx="580" cy="927" rx="2.2" ry="2.2" fill="#fff" stroke="#444" stroke-width="1.2" transform="rotate(0 580 927)"/>
<path d="M650,915 L653,930" stroke="#444" stroke-width="6"/><path d="M650,915 L653,930" stroke="#fff" stroke-width="3.4"/>
<path d="M648.4,930.0 L656.0,927.0 L658.7,938.0 L652.0,942.6Z" fill="#fff" stroke="#444" stroke-width="1.2" stroke-linejoin="round"/>
<path d="M585.0,1060.0 L600.0,1056.0 L618.7,1065.0 L616.0,1075.0 L600.0,1075.0 L587.0,1070.0Z" fill="#fff" stroke="#444" stroke-width="1.2" stroke-linejoin="round"/>
<path d="M600.0,1058.0 L598.0,1074.0" fill="none" stroke="#444" stroke-width="1.3"/>
<ellipse cx="786" cy="736" rx="11" ry="4" fill="#fff" stroke="#444" stroke-width="1.3" transform="rotate(20 786 736)"/>
<ellipse cx="808" cy="642" rx="10" ry="4" fill="#fff" stroke="#444" stroke-width="1.3" transform="rotate(20 808 642)"/>
<path d="M782.6,582.0 L786.0,579.0 L799.0,583.0 L802.0,588.0 L795.0,590.0 L784.0,586.0Z" fill="#fff" stroke="#444" stroke-width="1.2" stroke-linejoin="round"/>
<ellipse cx="793" cy="585" rx="1.8" ry="1.2" fill="#666" stroke="#444" stroke-width="1.2" transform="rotate(0 793 585)"/>
<path d="M758.0,604.0 L762.0,601.5 L772.0,606.0 L773.5,611.0 L766.0,612.0 L758.0,608.0Z" fill="#fff" stroke="#444" stroke-width="1.2" stroke-linejoin="round"/>
<ellipse cx="766" cy="608" rx="1.8" ry="1.2" fill="#666" stroke="#444" stroke-width="1.2" transform="rotate(0 766 608)"/>
<path d="M703.0,678.0 L708.0,671.0 L712.0,673.0 L710.0,682.0Z" fill="#fff" stroke="#444" stroke-width="1.2" stroke-linejoin="round"/>
<path d="M735,640 C740,605 752,585 770,593" fill="none" stroke="#444" stroke-width="4" stroke-dasharray="1.5 1"/>
<path d="M766.0,588.0 L771.0,585.0 L777.0,590.0 L774.0,596.0 L768.0,596.0Z" fill="#fff" stroke="#444" stroke-width="1.2" stroke-linejoin="round"/>
<path d="M720,800 L727,790" stroke="#444" stroke-width="3.5"/><path d="M720,800 L727,790" stroke="#fff" stroke-width="1.4"/>
<ellipse cx="728" cy="788" rx="3.2" ry="2.6" fill="#fff" stroke="#444" stroke-width="1.3" transform="rotate(-40 728 788)"/>
<ellipse cx="728" cy="788" rx="1.2" ry="1" fill="#fff" stroke="#444" stroke-width="1" transform="rotate(0 728 788)"/>
<path d="M713.0,818.0 L718.0,812.0 L726.0,814.0 L729.0,820.0 L724.0,825.0 L716.0,824.0Z" fill="#fff" stroke="#444" stroke-width="1.2" stroke-linejoin="round"/>
<ellipse cx="721" cy="819" rx="2" ry="1.6" fill="#666" stroke="#444" stroke-width="1.2" transform="rotate(0 721 819)"/>
<path d="M721.0,838.0 L723.0,832.4 L728.0,834.0 L727.7,843.0 L722.0,845.5Z" fill="#fff" stroke="#444" stroke-width="1.2" stroke-linejoin="round"/>
<ellipse cx="724.5" cy="838" rx="1.6" ry="2.2" fill="#fff" stroke="#444" stroke-width="1.2" transform="rotate(0 724.5 838)"/>
<path d="M740.8,832.0 L756.0,826.6 L760.4,830.0 L760.0,838.0 L745.0,842.6 L741.0,838.0Z" fill="#fff" stroke="#444" stroke-width="1.2" stroke-linejoin="round"/>
<path d="M745.0,831.0 L746.0,842.0" fill="none" stroke="#444" stroke-width="1.3"/>
<path d="M750.0,829.0 L751.0,840.0" fill="none" stroke="#444" stroke-width="1.3"/>
<path d="M726,850 C732,845 736,840 741,836" fill="none" stroke="#444" stroke-width="1.1"/><path d="M553.0,339.0 L608.0,340.0" fill="none" stroke="#444" stroke-width="1.3"/>
<path d="M555.0,381.7 L611.6,381.7" fill="none" stroke="#444" stroke-width="1.3"/>
<path d="M634.6,417.4 L651.0,417.4" fill="none" stroke="#444" stroke-width="1.3"/>
<path d="M550.6,452.8 L567.5,452.8" fill="none" stroke="#444" stroke-width="1.3"/>
<path d="M636.4,468.2 L651.0,468.2" fill="none" stroke="#444" stroke-width="1.3"/>
<path d="M635.3,507.0 L651.0,507.0" fill="none" stroke="#444" stroke-width="1.3"/>
<path d="M634.0,529.1 L661.2,529.1" fill="none" stroke="#444" stroke-width="1.3"/>
<path d="M189.0,764.7 L214.7,764.7 L214.7,855.0 L182.7,855.0" fill="none" stroke="#444" stroke-width="1.3"/>
<path d="M214.7,808.7 L238.6,808.7" fill="none" stroke="#444" stroke-width="1.3"/>
<path d="M285.3,1026.3 L285.3,1059.3" fill="none" stroke="#444" stroke-width="1.3"/>
<path d="M414.6,952.0 L414.6,984.5" fill="none" stroke="#444" stroke-width="1.3"/>
<path d="M592.3,628.0 L606.5,628.0 L606.5,641.6" fill="none" stroke="#444" stroke-width="1.3"/>
<path d="M430.5,750.7 L444.7,750.7" fill="none" stroke="#444" stroke-width="1.3"/>
<path d="M472.5,795.4 L505.0,795.4" fill="none" stroke="#444" stroke-width="1.3"/>
<path d="M488.8,814.3 L508.5,814.3" fill="none" stroke="#444" stroke-width="1.3"/>
<path d="M494.0,835.6 L523.9,835.6 L523.9,822.0" fill="none" stroke="#444" stroke-width="1.3"/>
<path d="M582.0,855.8 L596.5,855.8 L596.5,840.8" fill="none" stroke="#444" stroke-width="1.3"/>
<path d="M557.2,769.3 L587.1,769.3" fill="none" stroke="#444" stroke-width="1.3"/>
<path d="M659.0,733.3 L676.4,733.3" fill="none" stroke="#444" stroke-width="1.3"/>
<path d="M738.0,752.8 L755.5,752.8" fill="none" stroke="#444" stroke-width="1.3"/>
<path d="M566.6,897.4 L589.0,897.4 L589.0,909.0" fill="none" stroke="#444" stroke-width="1.3"/>
<path d="M688.4,914.2 L716.8,914.2" fill="none" stroke="#444" stroke-width="1.3"/>
<path d="M558.0,1033.7 L587.7,1033.7" fill="none" stroke="#444" stroke-width="1.3"/>
<path d="M899.4,919.5 L899.4,947.4" fill="none" stroke="#444" stroke-width="1.3"/>
<path d="M1030.5,702.3 L1111.6,702.3" fill="none" stroke="#444" stroke-width="1.3"/>
<path d="M853.6,353.9 L853.6,369.4" fill="none" stroke="#444" stroke-width="1.3"/>
<path d="M926.8,353.3 L943.3,353.3" fill="none" stroke="#444" stroke-width="1.3"/>
<path d="M915.2,419.7 L926.8,419.7" fill="none" stroke="#444" stroke-width="1.3"/>
<path d="M1183.2,248.8 L1217.8,248.8" fill="none" stroke="#444" stroke-width="1.3"/>
<path d="M1155.7,293.1 L1172.6,293.1" fill="none" stroke="#444" stroke-width="1.3"/>
<path d="M1074.0,359.7 L1094.5,359.7" fill="none" stroke="#444" stroke-width="1.3"/>
<path d="M1289.0,229.3 L1289.0,242.6" fill="none" stroke="#444" stroke-width="1.3"/>
<path d="M1463.9,241.1 L1463.9,266.3" fill="none" stroke="#444" stroke-width="1.3"/>
<path d="M1455.6,296.3 L1477.9,296.3" fill="none" stroke="#444" stroke-width="1.3"/>
<path d="M1547.7,298.9 L1559.3,298.9" fill="none" stroke="#444" stroke-width="1.3"/>
<path d="M1524.4,320.6 L1558.3,320.6" fill="none" stroke="#444" stroke-width="1.3"/>
<path d="M1639.4,272.5 L1639.4,293.4 L1653.7,293.4" fill="none" stroke="#444" stroke-width="1.3"/>
<path d="M1231.6,491.8 L1247.5,491.8" fill="none" stroke="#444" stroke-width="1.3"/>
<path d="M1437.7,699.0 L1437.7,720.6" fill="none" stroke="#444" stroke-width="1.3"/>
<path d="M938.5,618.5 L960.0,618.5" fill="none" stroke="#444" stroke-width="1.3"/>
<path d="M581.0,528.0 L581.0,577.2 L734.2,577.2 L734.2,641.2" fill="none" stroke="#444" stroke-width="1.3"/>
<path d="M581.0,519.0 L575.4,533.0 L587.2,533.0Z" fill="#444" stroke="#444" stroke-width="1.2" stroke-linejoin="round"/>
<rect x="379" y="984.5" width="72.2" height="21.4" fill="none" stroke="#444" stroke-width="1.3"/>
<rect x="1529.6" y="165.9" width="155.1" height="106.6" fill="none" stroke="#555" stroke-width="1.2"/>
<path d="M225.5,956.6 L386.7,956.6 L386.7,884.6 L494.3,884.6 L494.3,997.9 L429.3,1025.3 L225.5,1025.3 L225.5,956.6" fill="none" stroke="#3a3a3a" stroke-width="1.6"/>
<path d="M87.0,737.0 L185.4,737.0 L185.4,796.0 L126.0,796.0 L126.0,741.6 L87.0,741.6" fill="none" stroke="#555" stroke-width="1.0" stroke-dasharray="3 2.2"/>
<path d="M140.3,989.7 L178.2,976.8 L176.4,1150.9 L398.3,1072.2" fill="none" stroke="#555" stroke-width="1.0" stroke-dasharray="3 2.2"/>
<path d="M375.0,905.0 L459.0,905.0 L460.0,958.7 L394.5,958.7 L394.5,908.4 L376.4,908.4" fill="none" stroke="#555" stroke-width="1.0" stroke-dasharray="3 2.2"/>
<path d="M290.0,987.0 L437.0,943.2" fill="none" stroke="#555" stroke-width="1.0" stroke-dasharray="3 2.2"/>
<path d="M613.8,358.7 L613.8,548.3" fill="none" stroke="#555" stroke-width="1.0" stroke-dasharray="3 2.2"/>
<path d="M631.9,356.4 L631.9,539.3" fill="none" stroke="#555" stroke-width="1.0" stroke-dasharray="3 2.2"/>
<path d="M847.4,397.4 L831.0,435.2 L848.4,442.0 L840.7,459.4" fill="none" stroke="#555" stroke-width="1.0" stroke-dasharray="3 2.2"/>
<path d="M908.4,376.0 L898.7,401.3" fill="none" stroke="#555" stroke-width="1.0" stroke-dasharray="3 2.2"/>
<path d="M879.4,451.6 L863.9,490.3" fill="none" stroke="#555" stroke-width="1.0" stroke-dasharray="3 2.2"/>
<path d="M1106.9,389.8 L1103.4,411.1" fill="none" stroke="#555" stroke-width="1.0" stroke-dasharray="3 2.2"/>
<path d="M1186.8,306.4 L1168.1,322.4 L1270.1,381.8 L1247.0,402.2" fill="none" stroke="#555" stroke-width="1.0" stroke-dasharray="3 2.2"/>
<path d="M1128.6,503.4 L1137.0,479.2 L1206.6,517.3 L1214.0,499.6" fill="none" stroke="#555" stroke-width="1.0" stroke-dasharray="3 2.2"/>
<path d="M1501.0,331.4 L1376.3,442.5 L1427.7,473.0 L1398.3,497.0" fill="none" stroke="#555" stroke-width="1.0" stroke-dasharray="3 2.2"/>
<path d="M1371.0,348.2 L1343.8,373.4" fill="none" stroke="#555" stroke-width="1.0" stroke-dasharray="3 2.2"/>
<path d="M1503.0,407.0 L1490.6,417.4" fill="none" stroke="#555" stroke-width="1.0" stroke-dasharray="3 2.2"/>
<path d="M848.6,631.5 L886.5,631.5 L886.5,678.0 L924.5,678.0 L924.5,670.5" fill="none" stroke="#555" stroke-width="1.0" stroke-dasharray="3 2.2"/>
<path d="M622.2,644.5 L647.2,631.5" fill="none" stroke="#555" stroke-width="1.0" stroke-dasharray="3 2.2"/>
<path d="M636.3,659.7 L664.5,646.7" fill="none" stroke="#555" stroke-width="1.0" stroke-dasharray="3 2.2"/>
<path d="M658.0,668.3 L681.8,657.5" fill="none" stroke="#555" stroke-width="1.0" stroke-dasharray="3 2.2"/>
<path d="M1448.2,727.2 L1463.1,735.5" fill="none" stroke="#555" stroke-width="1.0" stroke-dasharray="3 2.2"/>
<g>
<text x="487.4" y="344.7" textLength="64.8" lengthAdjust="spacingAndGlyphs">47350201</text>
<text x="487.4" y="386.9" textLength="67.7" lengthAdjust="spacingAndGlyphs">700106(4)</text>
<text x="653.3" y="423.0" textLength="67.7" lengthAdjust="spacingAndGlyphs">700126(2)</text>
<text x="461.4" y="440.0" textLength="85.8" lengthAdjust="spacingAndGlyphs">521819(15A)</text>
<text x="462.6" y="458.0" textLength="85.8" lengthAdjust="spacingAndGlyphs">521821(10A)</text>
<text x="654.4" y="475.0" textLength="48.6" lengthAdjust="spacingAndGlyphs">468678</text>
<text x="653.3" y="513.3" textLength="66.6" lengthAdjust="spacingAndGlyphs">700147(2)</text>
<text x="664.6" y="535.9" textLength="66.6" lengthAdjust="spacingAndGlyphs">703106(2)</text>
<text x="243.0" y="814.0" textLength="48.8" lengthAdjust="spacingAndGlyphs">493098</text>
<text x="263.6" y="1073.5" textLength="49.6" lengthAdjust="spacingAndGlyphs">493230</text>
<text x="385.0" y="1001.3" textLength="67.5" lengthAdjust="spacingAndGlyphs">493082(2)</text>
<text x="523.6" y="632.7" textLength="68.3" lengthAdjust="spacingAndGlyphs">521849(3)</text>
<text x="363.0" y="755.2" textLength="67.0" lengthAdjust="spacingAndGlyphs">700701(2)</text>
<text x="405.5" y="799.7" textLength="67.0" lengthAdjust="spacingAndGlyphs">468981(2)</text>
<text x="421.2" y="819.4" textLength="67.6" lengthAdjust="spacingAndGlyphs">521375(2)</text>
<text x="427.2" y="840.8" textLength="66.8" lengthAdjust="spacingAndGlyphs">700200(3)</text>
<text x="514.5" y="860.4" textLength="67.5" lengthAdjust="spacingAndGlyphs">706161(2)</text>
<text x="591.0" y="775.7" textLength="48.6" lengthAdjust="spacingAndGlyphs">521361</text>
<text x="609.9" y="739.8" textLength="49.2" lengthAdjust="spacingAndGlyphs">473619</text>
<text x="689.4" y="759.3" textLength="48.7" lengthAdjust="spacingAndGlyphs">473620</text>
<text x="515.5" y="903.9" textLength="49.0" lengthAdjust="spacingAndGlyphs">521375</text>
<text x="721.4" y="920.6" textLength="49.1" lengthAdjust="spacingAndGlyphs">521363</text>
<text x="592.9" y="1038.0" textLength="47.7" lengthAdjust="spacingAndGlyphs">473661</text>
<text x="876.1" y="963.0" textLength="48.4" lengthAdjust="spacingAndGlyphs">493565</text>
<text x="1116.4" y="709.0" textLength="48.4" lengthAdjust="spacingAndGlyphs">493017</text>
<text x="830.0" y="349.0" textLength="48.4" lengthAdjust="spacingAndGlyphs">473587</text>
<text x="949.0" y="357.7" textLength="67.8" lengthAdjust="spacingAndGlyphs">476286(2)</text>
<text x="931.6" y="425.5" textLength="49.4" lengthAdjust="spacingAndGlyphs">468603</text>
<text x="1133.2" y="254.1" textLength="48.6" lengthAdjust="spacingAndGlyphs">473942</text>
<text x="1088.0" y="298.5" textLength="66.8" lengthAdjust="spacingAndGlyphs">701352(2)</text>
<text x="1024.4" y="365.0" textLength="47.9" lengthAdjust="spacingAndGlyphs">473781</text>
<text x="1264.8" y="223.0" textLength="68.2" lengthAdjust="spacingAndGlyphs">706096(2)</text>
<text x="1432.0" y="238.2" textLength="67.8" lengthAdjust="spacingAndGlyphs">526521(3)</text>
<text x="1402.3" y="303.1" textLength="48.4" lengthAdjust="spacingAndGlyphs">476713</text>
<text x="1563.2" y="304.1" textLength="67.8" lengthAdjust="spacingAndGlyphs">468878(2)</text>
<text x="1560.3" y="327.4" textLength="48.4" lengthAdjust="spacingAndGlyphs">514683</text>
<text x="1656.2" y="298.3" textLength="47.5" lengthAdjust="spacingAndGlyphs">493511</text>
<text x="1253.1" y="496.7" textLength="67.8" lengthAdjust="spacingAndGlyphs">493565(3)</text>
<text x="963.0" y="624.0" textLength="50.0" lengthAdjust="spacingAndGlyphs">473910</text>
<text x="1413.5" y="697.5" textLength="49.0" lengthAdjust="spacingAndGlyphs">476712</text>
</g>
</svg>
</body></html>
